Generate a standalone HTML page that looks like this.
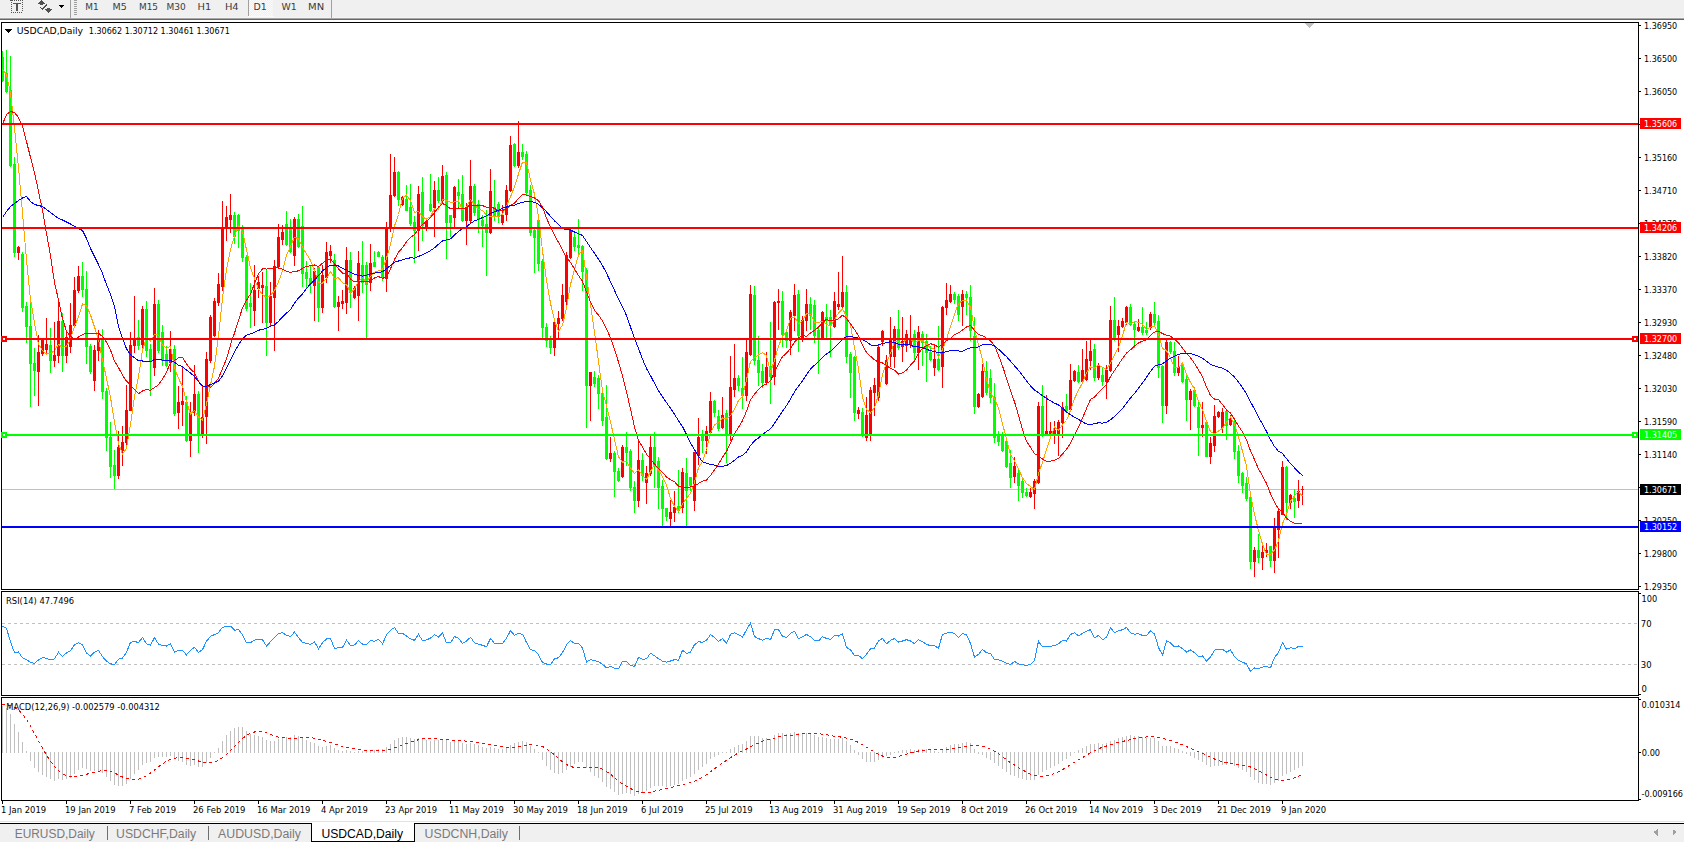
<!DOCTYPE html>
<html><head><meta charset="utf-8"><style>
html,body{margin:0;padding:0;background:#fff;}
body{width:1684px;height:842px;overflow:hidden;position:relative;}
svg{position:absolute;left:0;top:0;display:block;}
</style></head><body>
<svg width="1684" height="842" viewBox="0 0 1684 842">
<g shape-rendering="crispEdges">
<rect x="0" y="0" width="1684" height="18" fill="#f0f0f0"/>
<rect x="0" y="18" width="1684" height="1" fill="#a8a8a8"/>
<rect x="0" y="19" width="1684" height="1" fill="#666666"/>
<rect x="0" y="17" width="1684" height="1" fill="#f4f4f4"/>
<rect x="10" y="0" width="3" height="1" fill="#555"/>
<rect x="14" y="0" width="1" height="1" fill="#555"/>
<rect x="16" y="0" width="1" height="1" fill="#555"/>
<rect x="18" y="0" width="1" height="1" fill="#555"/>
<rect x="20" y="0" width="1" height="1" fill="#555"/>
<rect x="22" y="0" width="1" height="1" fill="#555"/>
<rect x="11" y="2" width="1" height="1" fill="#555"/>
<rect x="11" y="4" width="1" height="1" fill="#555"/>
<rect x="11" y="6" width="1" height="1" fill="#555"/>
<rect x="11" y="8" width="1" height="1" fill="#555"/>
<rect x="11" y="10" width="1" height="1" fill="#555"/>
<rect x="11" y="12" width="1" height="1" fill="#555"/>
<rect x="22" y="2" width="1" height="1" fill="#555"/>
<rect x="22" y="4" width="1" height="1" fill="#555"/>
<rect x="22" y="6" width="1" height="1" fill="#555"/>
<rect x="22" y="8" width="1" height="1" fill="#555"/>
<rect x="22" y="10" width="1" height="1" fill="#555"/>
<rect x="13" y="12" width="1" height="1" fill="#555"/>
<rect x="15" y="12" width="1" height="1" fill="#555"/>
<rect x="17" y="12" width="1" height="1" fill="#555"/>
<rect x="19" y="12" width="1" height="1" fill="#555"/>
<rect x="21" y="12" width="1" height="1" fill="#555"/>
<rect x="13" y="3" width="8" height="1" fill="#555"/>
<rect x="16" y="3" width="2" height="8" fill="#555"/>
<polygon points="41.5,0 45,3.6 43,3.6 43,4.8 40,4.8 40,3.6 38,3.6" fill="#505050"/>
<polyline points="40.3,7.3 42.4,9.4 46.9,4.4" fill="none" stroke="#505050" stroke-width="1.3"/>
<polygon points="47.2,8 50.2,8 50.2,9.2 52,9.2 48.6,12.8 45.2,9.2 47.2,9.2" fill="#505050"/>
<polygon points="59,5 64,5 61.5,8" fill="#000"/>
<rect x="70" y="0" width="1" height="18" fill="#a0a0a0"/>
<rect x="74" y="0" width="3" height="1" fill="#a0a0a0"/>
<rect x="74" y="2" width="3" height="1" fill="#a0a0a0"/>
<rect x="74" y="4" width="3" height="1" fill="#a0a0a0"/>
<rect x="74" y="6" width="3" height="1" fill="#a0a0a0"/>
<rect x="74" y="8" width="3" height="1" fill="#a0a0a0"/>
<rect x="74" y="10" width="3" height="1" fill="#a0a0a0"/>
<rect x="74" y="12" width="3" height="1" fill="#a0a0a0"/>
<rect x="74" y="14" width="3" height="1" fill="#a0a0a0"/>
<defs><pattern id="chk" width="2" height="2" patternUnits="userSpaceOnUse"><rect width="2" height="2" fill="#f0f0f0"/><rect width="1" height="1" fill="#fafafa"/><rect x="1" y="1" width="1" height="1" fill="#fafafa"/></pattern></defs>
<rect x="249" y="0" width="24" height="16" fill="url(#chk)"/>
<rect x="248" y="0" width="1" height="16" fill="#a0a0a0"/>
<rect x="248" y="16" width="26" height="1" fill="#fafafa"/>
<rect x="331" y="0" width="1" height="18" fill="#a0a0a0"/>
<rect x="1639" y="25" width="2" height="1" fill="#000"/>
<rect x="1639" y="58" width="2" height="1" fill="#000"/>
<rect x="1639" y="91" width="2" height="1" fill="#000"/>
<rect x="1639" y="124" width="2" height="1" fill="#000"/>
<rect x="1639" y="157" width="2" height="1" fill="#000"/>
<rect x="1639" y="190" width="2" height="1" fill="#000"/>
<rect x="1639" y="223" width="2" height="1" fill="#000"/>
<rect x="1639" y="256" width="2" height="1" fill="#000"/>
<rect x="1639" y="289" width="2" height="1" fill="#000"/>
<rect x="1639" y="322" width="2" height="1" fill="#000"/>
<rect x="1639" y="355" width="2" height="1" fill="#000"/>
<rect x="1639" y="388" width="2" height="1" fill="#000"/>
<rect x="1639" y="421" width="2" height="1" fill="#000"/>
<rect x="1639" y="454" width="2" height="1" fill="#000"/>
<rect x="1639" y="487" width="2" height="1" fill="#000"/>
<rect x="1639" y="520" width="2" height="1" fill="#000"/>
<rect x="1639" y="553" width="2" height="1" fill="#000"/>
<rect x="1639" y="586" width="2" height="1" fill="#000"/>
<polygon points="1305,23 1314,23 1309.5,28" fill="#c0c0c0"/>
<rect x="2" y="489" width="1636" height="1" fill="#c0c0c0"/>
<rect x="2" y="51" width="1" height="31" fill="#00ff00"/>
<rect x="1" y="57" width="3" height="24" fill="#00ff00"/>
<rect x="6" y="50" width="1" height="43" fill="#00ff00"/>
<rect x="5" y="73" width="3" height="19" fill="#00ff00"/>
<rect x="10" y="56" width="1" height="111" fill="#00ff00"/>
<rect x="9" y="90" width="3" height="76" fill="#00ff00"/>
<rect x="14" y="157" width="1" height="100" fill="#00ff00"/>
<rect x="13" y="164" width="3" height="89" fill="#00ff00"/>
<rect x="18" y="246" width="1" height="14" fill="#ff0000"/>
<rect x="17" y="247" width="3" height="6" fill="#ff0000"/>
<rect x="22" y="252" width="1" height="60" fill="#00ff00"/>
<rect x="21" y="254" width="3" height="54" fill="#00ff00"/>
<rect x="26" y="302" width="1" height="41" fill="#00ff00"/>
<rect x="25" y="306" width="3" height="21" fill="#00ff00"/>
<rect x="30" y="302" width="1" height="105" fill="#00ff00"/>
<rect x="29" y="326" width="3" height="38" fill="#00ff00"/>
<rect x="34" y="348" width="1" height="48" fill="#00ff00"/>
<rect x="33" y="363" width="3" height="8" fill="#00ff00"/>
<rect x="38" y="335" width="1" height="71" fill="#ff0000"/>
<rect x="37" y="352" width="3" height="20" fill="#ff0000"/>
<rect x="42" y="339" width="1" height="17" fill="#ff0000"/>
<rect x="41" y="339" width="3" height="15" fill="#ff0000"/>
<rect x="46" y="318" width="1" height="36" fill="#ff0000"/>
<rect x="45" y="344" width="3" height="6" fill="#ff0000"/>
<rect x="50" y="328" width="1" height="45" fill="#00ff00"/>
<rect x="49" y="345" width="3" height="16" fill="#00ff00"/>
<rect x="54" y="322" width="1" height="45" fill="#ff0000"/>
<rect x="53" y="355" width="3" height="6" fill="#ff0000"/>
<rect x="58" y="302" width="1" height="61" fill="#ff0000"/>
<rect x="57" y="321" width="3" height="35" fill="#ff0000"/>
<rect x="62" y="313" width="1" height="59" fill="#00ff00"/>
<rect x="61" y="321" width="3" height="35" fill="#00ff00"/>
<rect x="66" y="330" width="1" height="33" fill="#ff0000"/>
<rect x="65" y="337" width="3" height="19" fill="#ff0000"/>
<rect x="70" y="303" width="1" height="50" fill="#ff0000"/>
<rect x="69" y="325" width="3" height="22" fill="#ff0000"/>
<rect x="74" y="277" width="1" height="51" fill="#ff0000"/>
<rect x="73" y="290" width="3" height="36" fill="#ff0000"/>
<rect x="78" y="266" width="1" height="27" fill="#ff0000"/>
<rect x="77" y="276" width="3" height="15" fill="#ff0000"/>
<rect x="82" y="262" width="1" height="35" fill="#00ff00"/>
<rect x="81" y="276" width="3" height="14" fill="#00ff00"/>
<rect x="86" y="271" width="1" height="93" fill="#00ff00"/>
<rect x="85" y="289" width="3" height="58" fill="#00ff00"/>
<rect x="90" y="344" width="1" height="30" fill="#00ff00"/>
<rect x="89" y="346" width="3" height="26" fill="#00ff00"/>
<rect x="94" y="345" width="1" height="46" fill="#ff0000"/>
<rect x="93" y="350" width="3" height="31" fill="#ff0000"/>
<rect x="98" y="330" width="1" height="31" fill="#ff0000"/>
<rect x="97" y="340" width="3" height="11" fill="#ff0000"/>
<rect x="102" y="329" width="1" height="70" fill="#00ff00"/>
<rect x="101" y="340" width="3" height="52" fill="#00ff00"/>
<rect x="106" y="388" width="1" height="63" fill="#00ff00"/>
<rect x="105" y="391" width="3" height="47" fill="#00ff00"/>
<rect x="110" y="422" width="1" height="56" fill="#00ff00"/>
<rect x="109" y="437" width="3" height="30" fill="#00ff00"/>
<rect x="114" y="450" width="1" height="39" fill="#00ff00"/>
<rect x="113" y="465" width="3" height="11" fill="#00ff00"/>
<rect x="118" y="431" width="1" height="48" fill="#ff0000"/>
<rect x="117" y="447" width="3" height="29" fill="#ff0000"/>
<rect x="122" y="426" width="1" height="40" fill="#ff0000"/>
<rect x="121" y="442" width="3" height="9" fill="#ff0000"/>
<rect x="126" y="385" width="1" height="61" fill="#ff0000"/>
<rect x="125" y="410" width="3" height="33" fill="#ff0000"/>
<rect x="130" y="332" width="1" height="79" fill="#ff0000"/>
<rect x="129" y="345" width="3" height="66" fill="#ff0000"/>
<rect x="134" y="296" width="1" height="57" fill="#ff0000"/>
<rect x="133" y="339" width="3" height="7" fill="#ff0000"/>
<rect x="138" y="320" width="1" height="30" fill="#00ff00"/>
<rect x="137" y="337" width="3" height="9" fill="#00ff00"/>
<rect x="142" y="306" width="1" height="42" fill="#ff0000"/>
<rect x="141" y="309" width="3" height="36" fill="#ff0000"/>
<rect x="146" y="301" width="1" height="56" fill="#00ff00"/>
<rect x="145" y="309" width="3" height="42" fill="#00ff00"/>
<rect x="150" y="344" width="1" height="52" fill="#00ff00"/>
<rect x="149" y="349" width="3" height="12" fill="#00ff00"/>
<rect x="154" y="288" width="1" height="88" fill="#ff0000"/>
<rect x="153" y="304" width="3" height="64" fill="#ff0000"/>
<rect x="158" y="300" width="1" height="53" fill="#00ff00"/>
<rect x="157" y="304" width="3" height="47" fill="#00ff00"/>
<rect x="162" y="325" width="1" height="41" fill="#00ff00"/>
<rect x="161" y="332" width="3" height="29" fill="#00ff00"/>
<rect x="166" y="346" width="1" height="21" fill="#00ff00"/>
<rect x="165" y="354" width="3" height="12" fill="#00ff00"/>
<rect x="170" y="331" width="1" height="41" fill="#ff0000"/>
<rect x="169" y="349" width="3" height="14" fill="#ff0000"/>
<rect x="174" y="345" width="1" height="71" fill="#00ff00"/>
<rect x="173" y="349" width="3" height="65" fill="#00ff00"/>
<rect x="178" y="386" width="1" height="43" fill="#ff0000"/>
<rect x="177" y="402" width="3" height="11" fill="#ff0000"/>
<rect x="182" y="367" width="1" height="59" fill="#ff0000"/>
<rect x="181" y="401" width="3" height="4" fill="#ff0000"/>
<rect x="186" y="396" width="1" height="46" fill="#00ff00"/>
<rect x="185" y="402" width="3" height="39" fill="#00ff00"/>
<rect x="190" y="402" width="1" height="55" fill="#ff0000"/>
<rect x="189" y="412" width="3" height="29" fill="#ff0000"/>
<rect x="194" y="365" width="1" height="51" fill="#ff0000"/>
<rect x="193" y="394" width="3" height="19" fill="#ff0000"/>
<rect x="198" y="391" width="1" height="62" fill="#00ff00"/>
<rect x="197" y="394" width="3" height="42" fill="#00ff00"/>
<rect x="202" y="386" width="1" height="52" fill="#ff0000"/>
<rect x="201" y="417" width="3" height="19" fill="#ff0000"/>
<rect x="206" y="352" width="1" height="92" fill="#ff0000"/>
<rect x="205" y="359" width="3" height="58" fill="#ff0000"/>
<rect x="210" y="315" width="1" height="48" fill="#ff0000"/>
<rect x="209" y="317" width="3" height="44" fill="#ff0000"/>
<rect x="214" y="298" width="1" height="39" fill="#ff0000"/>
<rect x="213" y="301" width="3" height="35" fill="#ff0000"/>
<rect x="218" y="273" width="1" height="33" fill="#ff0000"/>
<rect x="217" y="284" width="3" height="19" fill="#ff0000"/>
<rect x="222" y="201" width="1" height="90" fill="#ff0000"/>
<rect x="221" y="227" width="3" height="60" fill="#ff0000"/>
<rect x="226" y="206" width="1" height="35" fill="#ff0000"/>
<rect x="225" y="217" width="3" height="11" fill="#ff0000"/>
<rect x="230" y="194" width="1" height="39" fill="#ff0000"/>
<rect x="229" y="215" width="3" height="5" fill="#ff0000"/>
<rect x="234" y="212" width="1" height="32" fill="#00ff00"/>
<rect x="233" y="215" width="3" height="22" fill="#00ff00"/>
<rect x="238" y="214" width="1" height="34" fill="#00ff00"/>
<rect x="237" y="215" width="3" height="16" fill="#00ff00"/>
<rect x="242" y="225" width="1" height="37" fill="#00ff00"/>
<rect x="241" y="227" width="3" height="31" fill="#00ff00"/>
<rect x="246" y="255" width="1" height="56" fill="#00ff00"/>
<rect x="245" y="257" width="3" height="52" fill="#00ff00"/>
<rect x="250" y="283" width="1" height="45" fill="#00ff00"/>
<rect x="249" y="303" width="3" height="4" fill="#00ff00"/>
<rect x="254" y="265" width="1" height="61" fill="#ff0000"/>
<rect x="253" y="290" width="3" height="21" fill="#ff0000"/>
<rect x="258" y="276" width="1" height="22" fill="#ff0000"/>
<rect x="257" y="282" width="3" height="7" fill="#ff0000"/>
<rect x="262" y="272" width="1" height="51" fill="#ff0000"/>
<rect x="261" y="285" width="3" height="3" fill="#ff0000"/>
<rect x="266" y="270" width="1" height="86" fill="#00ff00"/>
<rect x="265" y="286" width="3" height="37" fill="#00ff00"/>
<rect x="270" y="282" width="1" height="44" fill="#ff0000"/>
<rect x="269" y="296" width="3" height="27" fill="#ff0000"/>
<rect x="274" y="260" width="1" height="91" fill="#ff0000"/>
<rect x="273" y="266" width="3" height="32" fill="#ff0000"/>
<rect x="278" y="224" width="1" height="45" fill="#ff0000"/>
<rect x="277" y="237" width="3" height="30" fill="#ff0000"/>
<rect x="282" y="225" width="1" height="20" fill="#ff0000"/>
<rect x="281" y="232" width="3" height="8" fill="#ff0000"/>
<rect x="286" y="211" width="1" height="35" fill="#00ff00"/>
<rect x="285" y="224" width="3" height="21" fill="#00ff00"/>
<rect x="290" y="219" width="1" height="34" fill="#00ff00"/>
<rect x="289" y="227" width="3" height="25" fill="#00ff00"/>
<rect x="294" y="217" width="1" height="49" fill="#ff0000"/>
<rect x="293" y="219" width="3" height="37" fill="#ff0000"/>
<rect x="298" y="214" width="1" height="34" fill="#00ff00"/>
<rect x="297" y="219" width="3" height="28" fill="#00ff00"/>
<rect x="302" y="206" width="1" height="81" fill="#00ff00"/>
<rect x="301" y="226" width="3" height="48" fill="#00ff00"/>
<rect x="306" y="261" width="1" height="27" fill="#00ff00"/>
<rect x="305" y="272" width="3" height="7" fill="#00ff00"/>
<rect x="310" y="266" width="1" height="27" fill="#00ff00"/>
<rect x="309" y="278" width="3" height="6" fill="#00ff00"/>
<rect x="314" y="268" width="1" height="53" fill="#ff0000"/>
<rect x="313" y="271" width="3" height="15" fill="#ff0000"/>
<rect x="318" y="266" width="1" height="56" fill="#00ff00"/>
<rect x="317" y="267" width="3" height="41" fill="#00ff00"/>
<rect x="322" y="265" width="1" height="48" fill="#ff0000"/>
<rect x="321" y="275" width="3" height="33" fill="#ff0000"/>
<rect x="326" y="242" width="1" height="41" fill="#ff0000"/>
<rect x="325" y="252" width="3" height="26" fill="#ff0000"/>
<rect x="330" y="245" width="1" height="18" fill="#ff0000"/>
<rect x="329" y="251" width="3" height="5" fill="#ff0000"/>
<rect x="334" y="254" width="1" height="54" fill="#00ff00"/>
<rect x="333" y="260" width="3" height="47" fill="#00ff00"/>
<rect x="338" y="296" width="1" height="35" fill="#ff0000"/>
<rect x="337" y="302" width="3" height="5" fill="#ff0000"/>
<rect x="342" y="290" width="1" height="19" fill="#ff0000"/>
<rect x="341" y="301" width="3" height="3" fill="#ff0000"/>
<rect x="346" y="247" width="1" height="67" fill="#ff0000"/>
<rect x="345" y="260" width="3" height="43" fill="#ff0000"/>
<rect x="350" y="252" width="1" height="56" fill="#00ff00"/>
<rect x="349" y="260" width="3" height="33" fill="#00ff00"/>
<rect x="354" y="286" width="1" height="13" fill="#ff0000"/>
<rect x="353" y="288" width="3" height="10" fill="#ff0000"/>
<rect x="358" y="251" width="1" height="70" fill="#ff0000"/>
<rect x="357" y="263" width="3" height="33" fill="#ff0000"/>
<rect x="362" y="241" width="1" height="52" fill="#00ff00"/>
<rect x="361" y="265" width="3" height="18" fill="#00ff00"/>
<rect x="366" y="262" width="1" height="76" fill="#00ff00"/>
<rect x="365" y="265" width="3" height="20" fill="#00ff00"/>
<rect x="370" y="244" width="1" height="47" fill="#ff0000"/>
<rect x="369" y="263" width="3" height="20" fill="#ff0000"/>
<rect x="374" y="251" width="1" height="16" fill="#00ff00"/>
<rect x="373" y="262" width="3" height="5" fill="#00ff00"/>
<rect x="378" y="251" width="1" height="6" fill="#00ff00"/>
<rect x="377" y="252" width="3" height="5" fill="#00ff00"/>
<rect x="382" y="255" width="1" height="26" fill="#00ff00"/>
<rect x="381" y="257" width="3" height="21" fill="#00ff00"/>
<rect x="386" y="222" width="1" height="70" fill="#ff0000"/>
<rect x="385" y="227" width="3" height="52" fill="#ff0000"/>
<rect x="390" y="154" width="1" height="78" fill="#ff0000"/>
<rect x="389" y="195" width="3" height="34" fill="#ff0000"/>
<rect x="394" y="157" width="1" height="40" fill="#ff0000"/>
<rect x="393" y="172" width="3" height="24" fill="#ff0000"/>
<rect x="398" y="171" width="1" height="35" fill="#00ff00"/>
<rect x="397" y="172" width="3" height="28" fill="#00ff00"/>
<rect x="402" y="196" width="1" height="10" fill="#ff0000"/>
<rect x="401" y="197" width="3" height="8" fill="#ff0000"/>
<rect x="406" y="185" width="1" height="26" fill="#00ff00"/>
<rect x="405" y="199" width="3" height="12" fill="#00ff00"/>
<rect x="410" y="184" width="1" height="42" fill="#00ff00"/>
<rect x="409" y="207" width="3" height="17" fill="#00ff00"/>
<rect x="414" y="216" width="1" height="47" fill="#00ff00"/>
<rect x="413" y="222" width="3" height="9" fill="#00ff00"/>
<rect x="418" y="186" width="1" height="65" fill="#ff0000"/>
<rect x="417" y="194" width="3" height="37" fill="#ff0000"/>
<rect x="422" y="177" width="1" height="64" fill="#00ff00"/>
<rect x="421" y="192" width="3" height="34" fill="#00ff00"/>
<rect x="426" y="220" width="1" height="11" fill="#ff0000"/>
<rect x="425" y="221" width="3" height="6" fill="#ff0000"/>
<rect x="430" y="174" width="1" height="38" fill="#00ff00"/>
<rect x="429" y="204" width="3" height="7" fill="#00ff00"/>
<rect x="434" y="181" width="1" height="56" fill="#ff0000"/>
<rect x="433" y="190" width="3" height="18" fill="#ff0000"/>
<rect x="438" y="177" width="1" height="26" fill="#00ff00"/>
<rect x="437" y="190" width="3" height="11" fill="#00ff00"/>
<rect x="442" y="165" width="1" height="38" fill="#ff0000"/>
<rect x="441" y="176" width="3" height="25" fill="#ff0000"/>
<rect x="446" y="172" width="1" height="87" fill="#00ff00"/>
<rect x="445" y="175" width="3" height="48" fill="#00ff00"/>
<rect x="450" y="215" width="1" height="22" fill="#00ff00"/>
<rect x="449" y="215" width="3" height="8" fill="#00ff00"/>
<rect x="454" y="186" width="1" height="43" fill="#ff0000"/>
<rect x="453" y="187" width="3" height="31" fill="#ff0000"/>
<rect x="458" y="179" width="1" height="28" fill="#00ff00"/>
<rect x="457" y="192" width="3" height="4" fill="#00ff00"/>
<rect x="462" y="175" width="1" height="47" fill="#00ff00"/>
<rect x="461" y="194" width="3" height="27" fill="#00ff00"/>
<rect x="466" y="203" width="1" height="42" fill="#ff0000"/>
<rect x="465" y="207" width="3" height="14" fill="#ff0000"/>
<rect x="470" y="160" width="1" height="63" fill="#ff0000"/>
<rect x="469" y="186" width="3" height="35" fill="#ff0000"/>
<rect x="474" y="184" width="1" height="32" fill="#00ff00"/>
<rect x="473" y="186" width="3" height="27" fill="#00ff00"/>
<rect x="478" y="200" width="1" height="33" fill="#00ff00"/>
<rect x="477" y="204" width="3" height="16" fill="#00ff00"/>
<rect x="482" y="215" width="1" height="32" fill="#00ff00"/>
<rect x="481" y="220" width="3" height="6" fill="#00ff00"/>
<rect x="486" y="210" width="1" height="66" fill="#00ff00"/>
<rect x="485" y="224" width="3" height="9" fill="#00ff00"/>
<rect x="490" y="169" width="1" height="65" fill="#ff0000"/>
<rect x="489" y="191" width="3" height="42" fill="#ff0000"/>
<rect x="494" y="180" width="1" height="41" fill="#00ff00"/>
<rect x="493" y="207" width="3" height="9" fill="#00ff00"/>
<rect x="498" y="202" width="1" height="21" fill="#00ff00"/>
<rect x="497" y="204" width="3" height="13" fill="#00ff00"/>
<rect x="502" y="205" width="1" height="20" fill="#ff0000"/>
<rect x="501" y="215" width="3" height="8" fill="#ff0000"/>
<rect x="506" y="185" width="1" height="36" fill="#ff0000"/>
<rect x="505" y="190" width="3" height="25" fill="#ff0000"/>
<rect x="510" y="136" width="1" height="56" fill="#ff0000"/>
<rect x="509" y="145" width="3" height="46" fill="#ff0000"/>
<rect x="514" y="143" width="1" height="24" fill="#00ff00"/>
<rect x="513" y="144" width="3" height="22" fill="#00ff00"/>
<rect x="518" y="121" width="1" height="47" fill="#ff0000"/>
<rect x="517" y="152" width="3" height="14" fill="#ff0000"/>
<rect x="522" y="144" width="1" height="16" fill="#00ff00"/>
<rect x="521" y="152" width="3" height="5" fill="#00ff00"/>
<rect x="526" y="151" width="1" height="45" fill="#00ff00"/>
<rect x="525" y="154" width="3" height="39" fill="#00ff00"/>
<rect x="530" y="185" width="1" height="51" fill="#00ff00"/>
<rect x="529" y="190" width="3" height="43" fill="#00ff00"/>
<rect x="534" y="228" width="1" height="45" fill="#00ff00"/>
<rect x="533" y="230" width="3" height="8" fill="#00ff00"/>
<rect x="538" y="220" width="1" height="51" fill="#00ff00"/>
<rect x="537" y="220" width="3" height="44" fill="#00ff00"/>
<rect x="542" y="259" width="1" height="79" fill="#00ff00"/>
<rect x="541" y="261" width="3" height="67" fill="#00ff00"/>
<rect x="546" y="323" width="1" height="24" fill="#00ff00"/>
<rect x="545" y="327" width="3" height="14" fill="#00ff00"/>
<rect x="550" y="336" width="1" height="18" fill="#00ff00"/>
<rect x="549" y="340" width="3" height="8" fill="#00ff00"/>
<rect x="554" y="320" width="1" height="36" fill="#ff0000"/>
<rect x="553" y="322" width="3" height="26" fill="#ff0000"/>
<rect x="558" y="311" width="1" height="28" fill="#ff0000"/>
<rect x="557" y="318" width="3" height="6" fill="#ff0000"/>
<rect x="562" y="284" width="1" height="37" fill="#ff0000"/>
<rect x="561" y="295" width="3" height="24" fill="#ff0000"/>
<rect x="566" y="252" width="1" height="54" fill="#ff0000"/>
<rect x="565" y="255" width="3" height="47" fill="#ff0000"/>
<rect x="570" y="228" width="1" height="31" fill="#ff0000"/>
<rect x="569" y="230" width="3" height="28" fill="#ff0000"/>
<rect x="574" y="232" width="1" height="19" fill="#00ff00"/>
<rect x="573" y="237" width="3" height="10" fill="#00ff00"/>
<rect x="578" y="219" width="1" height="36" fill="#00ff00"/>
<rect x="577" y="245" width="3" height="3" fill="#00ff00"/>
<rect x="582" y="245" width="1" height="46" fill="#00ff00"/>
<rect x="581" y="246" width="3" height="26" fill="#00ff00"/>
<rect x="586" y="268" width="1" height="160" fill="#00ff00"/>
<rect x="585" y="270" width="3" height="116" fill="#00ff00"/>
<rect x="590" y="372" width="1" height="49" fill="#ff0000"/>
<rect x="589" y="372" width="3" height="14" fill="#ff0000"/>
<rect x="594" y="371" width="1" height="16" fill="#00ff00"/>
<rect x="593" y="377" width="3" height="7" fill="#00ff00"/>
<rect x="598" y="375" width="1" height="34" fill="#00ff00"/>
<rect x="597" y="378" width="3" height="16" fill="#00ff00"/>
<rect x="602" y="387" width="1" height="39" fill="#00ff00"/>
<rect x="601" y="393" width="3" height="28" fill="#00ff00"/>
<rect x="606" y="385" width="1" height="75" fill="#00ff00"/>
<rect x="605" y="417" width="3" height="42" fill="#00ff00"/>
<rect x="610" y="437" width="1" height="25" fill="#ff0000"/>
<rect x="609" y="453" width="3" height="6" fill="#ff0000"/>
<rect x="614" y="451" width="1" height="46" fill="#00ff00"/>
<rect x="613" y="453" width="3" height="19" fill="#00ff00"/>
<rect x="618" y="468" width="1" height="14" fill="#00ff00"/>
<rect x="617" y="471" width="3" height="10" fill="#00ff00"/>
<rect x="622" y="445" width="1" height="33" fill="#ff0000"/>
<rect x="621" y="447" width="3" height="30" fill="#ff0000"/>
<rect x="626" y="432" width="1" height="34" fill="#00ff00"/>
<rect x="625" y="447" width="3" height="6" fill="#00ff00"/>
<rect x="630" y="449" width="1" height="42" fill="#00ff00"/>
<rect x="629" y="451" width="3" height="37" fill="#00ff00"/>
<rect x="634" y="481" width="1" height="32" fill="#00ff00"/>
<rect x="633" y="487" width="3" height="14" fill="#00ff00"/>
<rect x="638" y="442" width="1" height="65" fill="#ff0000"/>
<rect x="637" y="460" width="3" height="41" fill="#ff0000"/>
<rect x="642" y="453" width="1" height="28" fill="#00ff00"/>
<rect x="641" y="460" width="3" height="16" fill="#00ff00"/>
<rect x="646" y="466" width="1" height="38" fill="#ff0000"/>
<rect x="645" y="473" width="3" height="10" fill="#ff0000"/>
<rect x="650" y="435" width="1" height="41" fill="#ff0000"/>
<rect x="649" y="447" width="3" height="27" fill="#ff0000"/>
<rect x="654" y="432" width="1" height="56" fill="#00ff00"/>
<rect x="653" y="447" width="3" height="20" fill="#00ff00"/>
<rect x="658" y="457" width="1" height="52" fill="#00ff00"/>
<rect x="657" y="461" width="3" height="27" fill="#00ff00"/>
<rect x="662" y="480" width="1" height="47" fill="#00ff00"/>
<rect x="661" y="486" width="3" height="23" fill="#00ff00"/>
<rect x="666" y="508" width="1" height="13" fill="#00ff00"/>
<rect x="665" y="508" width="3" height="9" fill="#00ff00"/>
<rect x="670" y="500" width="1" height="26" fill="#ff0000"/>
<rect x="669" y="512" width="3" height="7" fill="#ff0000"/>
<rect x="674" y="491" width="1" height="31" fill="#ff0000"/>
<rect x="673" y="507" width="3" height="6" fill="#ff0000"/>
<rect x="678" y="470" width="1" height="43" fill="#00ff00"/>
<rect x="677" y="506" width="3" height="5" fill="#00ff00"/>
<rect x="682" y="468" width="1" height="45" fill="#ff0000"/>
<rect x="681" y="472" width="3" height="36" fill="#ff0000"/>
<rect x="686" y="458" width="1" height="69" fill="#00ff00"/>
<rect x="685" y="473" width="3" height="18" fill="#00ff00"/>
<rect x="690" y="477" width="1" height="14" fill="#00ff00"/>
<rect x="689" y="477" width="3" height="9" fill="#00ff00"/>
<rect x="694" y="452" width="1" height="59" fill="#ff0000"/>
<rect x="693" y="452" width="3" height="49" fill="#ff0000"/>
<rect x="698" y="418" width="1" height="47" fill="#ff0000"/>
<rect x="697" y="437" width="3" height="19" fill="#ff0000"/>
<rect x="702" y="430" width="1" height="23" fill="#00ff00"/>
<rect x="701" y="435" width="3" height="6" fill="#00ff00"/>
<rect x="706" y="426" width="1" height="28" fill="#ff0000"/>
<rect x="705" y="431" width="3" height="10" fill="#ff0000"/>
<rect x="710" y="392" width="1" height="42" fill="#ff0000"/>
<rect x="709" y="401" width="3" height="32" fill="#ff0000"/>
<rect x="714" y="400" width="1" height="17" fill="#00ff00"/>
<rect x="713" y="401" width="3" height="12" fill="#00ff00"/>
<rect x="718" y="410" width="1" height="21" fill="#00ff00"/>
<rect x="717" y="416" width="3" height="13" fill="#00ff00"/>
<rect x="722" y="397" width="1" height="32" fill="#ff0000"/>
<rect x="721" y="415" width="3" height="13" fill="#ff0000"/>
<rect x="726" y="410" width="1" height="53" fill="#00ff00"/>
<rect x="725" y="413" width="3" height="23" fill="#00ff00"/>
<rect x="730" y="356" width="1" height="85" fill="#ff0000"/>
<rect x="729" y="387" width="3" height="49" fill="#ff0000"/>
<rect x="734" y="344" width="1" height="53" fill="#ff0000"/>
<rect x="733" y="378" width="3" height="12" fill="#ff0000"/>
<rect x="738" y="375" width="1" height="16" fill="#00ff00"/>
<rect x="737" y="378" width="3" height="8" fill="#00ff00"/>
<rect x="742" y="357" width="1" height="52" fill="#00ff00"/>
<rect x="741" y="388" width="3" height="8" fill="#00ff00"/>
<rect x="746" y="340" width="1" height="61" fill="#ff0000"/>
<rect x="745" y="352" width="3" height="44" fill="#ff0000"/>
<rect x="750" y="285" width="1" height="71" fill="#ff0000"/>
<rect x="749" y="294" width="3" height="61" fill="#ff0000"/>
<rect x="754" y="286" width="1" height="79" fill="#00ff00"/>
<rect x="753" y="295" width="3" height="66" fill="#00ff00"/>
<rect x="758" y="336" width="1" height="50" fill="#00ff00"/>
<rect x="757" y="360" width="3" height="13" fill="#00ff00"/>
<rect x="762" y="364" width="1" height="24" fill="#00ff00"/>
<rect x="761" y="371" width="3" height="12" fill="#00ff00"/>
<rect x="766" y="352" width="1" height="33" fill="#ff0000"/>
<rect x="765" y="367" width="3" height="16" fill="#ff0000"/>
<rect x="770" y="322" width="1" height="82" fill="#00ff00"/>
<rect x="769" y="366" width="3" height="11" fill="#00ff00"/>
<rect x="774" y="301" width="1" height="84" fill="#ff0000"/>
<rect x="773" y="302" width="3" height="75" fill="#ff0000"/>
<rect x="778" y="289" width="1" height="41" fill="#ff0000"/>
<rect x="777" y="301" width="3" height="2" fill="#ff0000"/>
<rect x="782" y="291" width="1" height="56" fill="#00ff00"/>
<rect x="781" y="301" width="3" height="34" fill="#00ff00"/>
<rect x="786" y="330" width="1" height="18" fill="#00ff00"/>
<rect x="785" y="332" width="3" height="9" fill="#00ff00"/>
<rect x="790" y="310" width="1" height="45" fill="#ff0000"/>
<rect x="789" y="312" width="3" height="29" fill="#ff0000"/>
<rect x="794" y="284" width="1" height="47" fill="#ff0000"/>
<rect x="793" y="295" width="3" height="21" fill="#ff0000"/>
<rect x="798" y="290" width="1" height="62" fill="#00ff00"/>
<rect x="797" y="294" width="3" height="42" fill="#00ff00"/>
<rect x="802" y="316" width="1" height="26" fill="#ff0000"/>
<rect x="801" y="320" width="3" height="18" fill="#ff0000"/>
<rect x="806" y="289" width="1" height="42" fill="#ff0000"/>
<rect x="805" y="304" width="3" height="17" fill="#ff0000"/>
<rect x="810" y="297" width="1" height="33" fill="#00ff00"/>
<rect x="809" y="304" width="3" height="12" fill="#00ff00"/>
<rect x="814" y="300" width="1" height="43" fill="#00ff00"/>
<rect x="813" y="305" width="3" height="31" fill="#00ff00"/>
<rect x="818" y="326" width="1" height="48" fill="#00ff00"/>
<rect x="817" y="330" width="3" height="8" fill="#00ff00"/>
<rect x="822" y="311" width="1" height="29" fill="#ff0000"/>
<rect x="821" y="312" width="3" height="26" fill="#ff0000"/>
<rect x="826" y="304" width="1" height="34" fill="#00ff00"/>
<rect x="825" y="317" width="3" height="4" fill="#00ff00"/>
<rect x="830" y="310" width="1" height="47" fill="#00ff00"/>
<rect x="829" y="317" width="3" height="9" fill="#00ff00"/>
<rect x="834" y="292" width="1" height="36" fill="#ff0000"/>
<rect x="833" y="301" width="3" height="26" fill="#ff0000"/>
<rect x="838" y="272" width="1" height="38" fill="#ff0000"/>
<rect x="837" y="304" width="3" height="3" fill="#ff0000"/>
<rect x="842" y="256" width="1" height="54" fill="#ff0000"/>
<rect x="841" y="292" width="3" height="15" fill="#ff0000"/>
<rect x="846" y="285" width="1" height="78" fill="#00ff00"/>
<rect x="845" y="292" width="3" height="65" fill="#00ff00"/>
<rect x="850" y="352" width="1" height="46" fill="#00ff00"/>
<rect x="849" y="354" width="3" height="19" fill="#00ff00"/>
<rect x="854" y="356" width="1" height="65" fill="#00ff00"/>
<rect x="853" y="357" width="3" height="56" fill="#00ff00"/>
<rect x="858" y="407" width="1" height="12" fill="#ff0000"/>
<rect x="857" y="410" width="3" height="4" fill="#ff0000"/>
<rect x="862" y="408" width="1" height="29" fill="#00ff00"/>
<rect x="861" y="412" width="3" height="24" fill="#00ff00"/>
<rect x="866" y="397" width="1" height="44" fill="#ff0000"/>
<rect x="865" y="415" width="3" height="23" fill="#ff0000"/>
<rect x="870" y="387" width="1" height="54" fill="#ff0000"/>
<rect x="869" y="390" width="3" height="46" fill="#ff0000"/>
<rect x="874" y="378" width="1" height="38" fill="#ff0000"/>
<rect x="873" y="385" width="3" height="8" fill="#ff0000"/>
<rect x="878" y="344" width="1" height="57" fill="#ff0000"/>
<rect x="877" y="347" width="3" height="51" fill="#ff0000"/>
<rect x="882" y="330" width="1" height="16" fill="#ff0000"/>
<rect x="881" y="331" width="3" height="11" fill="#ff0000"/>
<rect x="886" y="355" width="1" height="30" fill="#ff0000"/>
<rect x="885" y="360" width="3" height="24" fill="#ff0000"/>
<rect x="890" y="317" width="1" height="50" fill="#ff0000"/>
<rect x="889" y="340" width="3" height="17" fill="#ff0000"/>
<rect x="894" y="326" width="1" height="42" fill="#ff0000"/>
<rect x="893" y="329" width="3" height="28" fill="#ff0000"/>
<rect x="898" y="310" width="1" height="40" fill="#00ff00"/>
<rect x="897" y="329" width="3" height="19" fill="#00ff00"/>
<rect x="902" y="317" width="1" height="45" fill="#ff0000"/>
<rect x="901" y="341" width="3" height="6" fill="#ff0000"/>
<rect x="906" y="330" width="1" height="22" fill="#ff0000"/>
<rect x="905" y="334" width="3" height="12" fill="#ff0000"/>
<rect x="910" y="315" width="1" height="33" fill="#ff0000"/>
<rect x="909" y="340" width="3" height="5" fill="#ff0000"/>
<rect x="914" y="330" width="1" height="30" fill="#00ff00"/>
<rect x="913" y="334" width="3" height="19" fill="#00ff00"/>
<rect x="918" y="326" width="1" height="44" fill="#ff0000"/>
<rect x="917" y="332" width="3" height="21" fill="#ff0000"/>
<rect x="922" y="331" width="1" height="35" fill="#00ff00"/>
<rect x="921" y="334" width="3" height="9" fill="#00ff00"/>
<rect x="926" y="334" width="1" height="48" fill="#00ff00"/>
<rect x="925" y="341" width="3" height="12" fill="#00ff00"/>
<rect x="930" y="346" width="1" height="15" fill="#00ff00"/>
<rect x="929" y="352" width="3" height="8" fill="#00ff00"/>
<rect x="934" y="345" width="1" height="31" fill="#ff0000"/>
<rect x="933" y="359" width="3" height="9" fill="#ff0000"/>
<rect x="938" y="326" width="1" height="45" fill="#00ff00"/>
<rect x="937" y="359" width="3" height="11" fill="#00ff00"/>
<rect x="942" y="306" width="1" height="82" fill="#ff0000"/>
<rect x="941" y="307" width="3" height="60" fill="#ff0000"/>
<rect x="946" y="283" width="1" height="32" fill="#ff0000"/>
<rect x="945" y="300" width="3" height="8" fill="#ff0000"/>
<rect x="950" y="285" width="1" height="18" fill="#ff0000"/>
<rect x="949" y="294" width="3" height="8" fill="#ff0000"/>
<rect x="954" y="292" width="1" height="12" fill="#00ff00"/>
<rect x="953" y="294" width="3" height="6" fill="#00ff00"/>
<rect x="958" y="294" width="1" height="27" fill="#00ff00"/>
<rect x="957" y="296" width="3" height="19" fill="#00ff00"/>
<rect x="962" y="290" width="1" height="36" fill="#ff0000"/>
<rect x="961" y="294" width="3" height="13" fill="#ff0000"/>
<rect x="966" y="291" width="1" height="24" fill="#00ff00"/>
<rect x="965" y="294" width="3" height="4" fill="#00ff00"/>
<rect x="970" y="285" width="1" height="56" fill="#00ff00"/>
<rect x="969" y="297" width="3" height="34" fill="#00ff00"/>
<rect x="974" y="317" width="1" height="97" fill="#00ff00"/>
<rect x="973" y="336" width="3" height="71" fill="#00ff00"/>
<rect x="978" y="393" width="1" height="15" fill="#ff0000"/>
<rect x="977" y="394" width="3" height="13" fill="#ff0000"/>
<rect x="982" y="364" width="1" height="34" fill="#ff0000"/>
<rect x="981" y="371" width="3" height="26" fill="#ff0000"/>
<rect x="986" y="361" width="1" height="34" fill="#00ff00"/>
<rect x="985" y="371" width="3" height="22" fill="#00ff00"/>
<rect x="990" y="369" width="1" height="34" fill="#00ff00"/>
<rect x="989" y="378" width="3" height="20" fill="#00ff00"/>
<rect x="994" y="383" width="1" height="60" fill="#00ff00"/>
<rect x="993" y="397" width="3" height="41" fill="#00ff00"/>
<rect x="998" y="431" width="1" height="15" fill="#00ff00"/>
<rect x="997" y="436" width="3" height="6" fill="#00ff00"/>
<rect x="1002" y="432" width="1" height="20" fill="#00ff00"/>
<rect x="1001" y="436" width="3" height="15" fill="#00ff00"/>
<rect x="1006" y="438" width="1" height="30" fill="#00ff00"/>
<rect x="1005" y="441" width="3" height="26" fill="#00ff00"/>
<rect x="1010" y="450" width="1" height="38" fill="#00ff00"/>
<rect x="1009" y="463" width="3" height="15" fill="#00ff00"/>
<rect x="1014" y="457" width="1" height="26" fill="#ff0000"/>
<rect x="1013" y="466" width="3" height="11" fill="#ff0000"/>
<rect x="1018" y="470" width="1" height="31" fill="#00ff00"/>
<rect x="1017" y="473" width="3" height="13" fill="#00ff00"/>
<rect x="1022" y="477" width="1" height="21" fill="#00ff00"/>
<rect x="1021" y="481" width="3" height="12" fill="#00ff00"/>
<rect x="1026" y="488" width="1" height="9" fill="#00ff00"/>
<rect x="1025" y="492" width="3" height="4" fill="#00ff00"/>
<rect x="1030" y="488" width="1" height="10" fill="#ff0000"/>
<rect x="1029" y="492" width="3" height="5" fill="#ff0000"/>
<rect x="1034" y="479" width="1" height="30" fill="#ff0000"/>
<rect x="1033" y="481" width="3" height="13" fill="#ff0000"/>
<rect x="1038" y="402" width="1" height="82" fill="#ff0000"/>
<rect x="1037" y="406" width="3" height="77" fill="#ff0000"/>
<rect x="1042" y="385" width="1" height="52" fill="#00ff00"/>
<rect x="1041" y="406" width="3" height="30" fill="#00ff00"/>
<rect x="1046" y="395" width="1" height="41" fill="#ff0000"/>
<rect x="1045" y="431" width="3" height="3" fill="#ff0000"/>
<rect x="1050" y="422" width="1" height="15" fill="#ff0000"/>
<rect x="1049" y="431" width="3" height="5" fill="#ff0000"/>
<rect x="1054" y="421" width="1" height="23" fill="#ff0000"/>
<rect x="1053" y="430" width="3" height="6" fill="#ff0000"/>
<rect x="1058" y="420" width="1" height="36" fill="#ff0000"/>
<rect x="1057" y="422" width="3" height="14" fill="#ff0000"/>
<rect x="1062" y="402" width="1" height="36" fill="#ff0000"/>
<rect x="1061" y="407" width="3" height="16" fill="#ff0000"/>
<rect x="1066" y="394" width="1" height="18" fill="#00ff00"/>
<rect x="1065" y="406" width="3" height="5" fill="#00ff00"/>
<rect x="1070" y="364" width="1" height="47" fill="#ff0000"/>
<rect x="1069" y="380" width="3" height="30" fill="#ff0000"/>
<rect x="1074" y="370" width="1" height="12" fill="#ff0000"/>
<rect x="1073" y="371" width="3" height="10" fill="#ff0000"/>
<rect x="1078" y="365" width="1" height="18" fill="#00ff00"/>
<rect x="1077" y="372" width="3" height="10" fill="#00ff00"/>
<rect x="1082" y="349" width="1" height="33" fill="#ff0000"/>
<rect x="1081" y="370" width="3" height="12" fill="#ff0000"/>
<rect x="1086" y="341" width="1" height="40" fill="#ff0000"/>
<rect x="1085" y="359" width="3" height="21" fill="#ff0000"/>
<rect x="1090" y="340" width="1" height="30" fill="#ff0000"/>
<rect x="1089" y="351" width="3" height="10" fill="#ff0000"/>
<rect x="1094" y="344" width="1" height="37" fill="#00ff00"/>
<rect x="1093" y="349" width="3" height="29" fill="#00ff00"/>
<rect x="1098" y="363" width="1" height="17" fill="#ff0000"/>
<rect x="1097" y="366" width="3" height="12" fill="#ff0000"/>
<rect x="1102" y="367" width="1" height="19" fill="#00ff00"/>
<rect x="1101" y="375" width="3" height="7" fill="#00ff00"/>
<rect x="1106" y="365" width="1" height="34" fill="#ff0000"/>
<rect x="1105" y="370" width="3" height="12" fill="#ff0000"/>
<rect x="1110" y="306" width="1" height="66" fill="#ff0000"/>
<rect x="1109" y="320" width="3" height="51" fill="#ff0000"/>
<rect x="1114" y="297" width="1" height="44" fill="#00ff00"/>
<rect x="1113" y="320" width="3" height="18" fill="#00ff00"/>
<rect x="1118" y="320" width="1" height="32" fill="#ff0000"/>
<rect x="1117" y="326" width="3" height="9" fill="#ff0000"/>
<rect x="1122" y="318" width="1" height="10" fill="#ff0000"/>
<rect x="1121" y="321" width="3" height="6" fill="#ff0000"/>
<rect x="1126" y="306" width="1" height="19" fill="#ff0000"/>
<rect x="1125" y="307" width="3" height="16" fill="#ff0000"/>
<rect x="1130" y="304" width="1" height="22" fill="#00ff00"/>
<rect x="1129" y="307" width="3" height="18" fill="#00ff00"/>
<rect x="1134" y="322" width="1" height="26" fill="#00ff00"/>
<rect x="1133" y="324" width="3" height="6" fill="#00ff00"/>
<rect x="1138" y="319" width="1" height="13" fill="#ff0000"/>
<rect x="1137" y="327" width="3" height="4" fill="#ff0000"/>
<rect x="1142" y="307" width="1" height="28" fill="#00ff00"/>
<rect x="1141" y="327" width="3" height="6" fill="#00ff00"/>
<rect x="1146" y="322" width="1" height="13" fill="#00ff00"/>
<rect x="1145" y="330" width="3" height="3" fill="#00ff00"/>
<rect x="1150" y="312" width="1" height="18" fill="#ff0000"/>
<rect x="1149" y="314" width="3" height="14" fill="#ff0000"/>
<rect x="1154" y="302" width="1" height="23" fill="#00ff00"/>
<rect x="1153" y="314" width="3" height="9" fill="#00ff00"/>
<rect x="1158" y="315" width="1" height="63" fill="#00ff00"/>
<rect x="1157" y="321" width="3" height="47" fill="#00ff00"/>
<rect x="1162" y="365" width="1" height="58" fill="#00ff00"/>
<rect x="1161" y="366" width="3" height="40" fill="#00ff00"/>
<rect x="1166" y="340" width="1" height="74" fill="#ff0000"/>
<rect x="1165" y="342" width="3" height="64" fill="#ff0000"/>
<rect x="1170" y="341" width="1" height="13" fill="#00ff00"/>
<rect x="1169" y="342" width="3" height="10" fill="#00ff00"/>
<rect x="1174" y="342" width="1" height="34" fill="#00ff00"/>
<rect x="1173" y="351" width="3" height="22" fill="#00ff00"/>
<rect x="1178" y="356" width="1" height="20" fill="#ff0000"/>
<rect x="1177" y="367" width="3" height="6" fill="#ff0000"/>
<rect x="1182" y="362" width="1" height="21" fill="#00ff00"/>
<rect x="1181" y="365" width="3" height="17" fill="#00ff00"/>
<rect x="1186" y="376" width="1" height="45" fill="#00ff00"/>
<rect x="1185" y="379" width="3" height="21" fill="#00ff00"/>
<rect x="1190" y="389" width="1" height="41" fill="#ff0000"/>
<rect x="1189" y="391" width="3" height="9" fill="#ff0000"/>
<rect x="1194" y="387" width="1" height="20" fill="#00ff00"/>
<rect x="1193" y="390" width="3" height="16" fill="#00ff00"/>
<rect x="1198" y="400" width="1" height="56" fill="#00ff00"/>
<rect x="1197" y="407" width="3" height="21" fill="#00ff00"/>
<rect x="1202" y="402" width="1" height="35" fill="#ff0000"/>
<rect x="1201" y="425" width="3" height="3" fill="#ff0000"/>
<rect x="1206" y="420" width="1" height="37" fill="#00ff00"/>
<rect x="1205" y="422" width="3" height="35" fill="#00ff00"/>
<rect x="1210" y="437" width="1" height="27" fill="#ff0000"/>
<rect x="1209" y="443" width="3" height="14" fill="#ff0000"/>
<rect x="1214" y="405" width="1" height="47" fill="#ff0000"/>
<rect x="1213" y="416" width="3" height="30" fill="#ff0000"/>
<rect x="1218" y="411" width="1" height="7" fill="#ff0000"/>
<rect x="1217" y="412" width="3" height="5" fill="#ff0000"/>
<rect x="1222" y="408" width="1" height="25" fill="#ff0000"/>
<rect x="1221" y="412" width="3" height="16" fill="#ff0000"/>
<rect x="1226" y="410" width="1" height="30" fill="#00ff00"/>
<rect x="1225" y="411" width="3" height="15" fill="#00ff00"/>
<rect x="1230" y="415" width="1" height="11" fill="#ff0000"/>
<rect x="1229" y="418" width="3" height="7" fill="#ff0000"/>
<rect x="1234" y="420" width="1" height="39" fill="#00ff00"/>
<rect x="1233" y="422" width="3" height="30" fill="#00ff00"/>
<rect x="1238" y="445" width="1" height="38" fill="#00ff00"/>
<rect x="1237" y="451" width="3" height="25" fill="#00ff00"/>
<rect x="1242" y="472" width="1" height="21" fill="#00ff00"/>
<rect x="1241" y="473" width="3" height="13" fill="#00ff00"/>
<rect x="1246" y="477" width="1" height="24" fill="#00ff00"/>
<rect x="1245" y="483" width="3" height="16" fill="#00ff00"/>
<rect x="1250" y="497" width="1" height="72" fill="#00ff00"/>
<rect x="1249" y="497" width="3" height="65" fill="#00ff00"/>
<rect x="1254" y="547" width="1" height="30" fill="#ff0000"/>
<rect x="1253" y="550" width="3" height="12" fill="#ff0000"/>
<rect x="1258" y="534" width="1" height="29" fill="#00ff00"/>
<rect x="1257" y="550" width="3" height="8" fill="#00ff00"/>
<rect x="1262" y="545" width="1" height="25" fill="#ff0000"/>
<rect x="1261" y="552" width="3" height="6" fill="#ff0000"/>
<rect x="1266" y="543" width="1" height="14" fill="#ff0000"/>
<rect x="1265" y="550" width="3" height="3" fill="#ff0000"/>
<rect x="1270" y="546" width="1" height="21" fill="#00ff00"/>
<rect x="1269" y="546" width="3" height="15" fill="#00ff00"/>
<rect x="1274" y="518" width="1" height="55" fill="#ff0000"/>
<rect x="1273" y="528" width="3" height="33" fill="#ff0000"/>
<rect x="1278" y="509" width="1" height="49" fill="#ff0000"/>
<rect x="1277" y="511" width="3" height="19" fill="#ff0000"/>
<rect x="1282" y="461" width="1" height="54" fill="#ff0000"/>
<rect x="1281" y="467" width="3" height="48" fill="#ff0000"/>
<rect x="1286" y="466" width="1" height="54" fill="#00ff00"/>
<rect x="1285" y="467" width="3" height="36" fill="#00ff00"/>
<rect x="1290" y="494" width="1" height="15" fill="#ff0000"/>
<rect x="1289" y="495" width="3" height="8" fill="#ff0000"/>
<rect x="1294" y="489" width="1" height="29" fill="#00ff00"/>
<rect x="1293" y="498" width="3" height="4" fill="#00ff00"/>
<rect x="1298" y="480" width="1" height="28" fill="#ff0000"/>
<rect x="1297" y="491" width="3" height="10" fill="#ff0000"/>
<rect x="1302" y="486" width="1" height="19" fill="#ff0000"/>
<rect x="1301" y="489" width="3" height="1" fill="#ff0000"/>
<polyline points="2.5,69.0 6.5,74.5 10.5,93.5 14.5,127.5 18.5,167.5 22.5,212.9 26.5,259.9 30.5,299.5 34.5,323.1 38.5,344.1 42.5,350.5 46.5,354.1 50.5,353.5 54.5,350.5 58.5,344.3 62.5,347.5 66.5,346.1 70.5,339.1 74.5,326.1 78.5,317.1 82.5,303.9 86.5,305.7 90.5,314.9 94.5,326.9 98.5,339.7 102.5,360.1 106.5,378.3 110.5,397.3 114.5,422.3 118.5,443.7 122.5,453.9 126.5,448.5 130.5,424.3 134.5,397.1 138.5,376.7 142.5,350.1 146.5,338.1 150.5,341.1 154.5,334.1 158.5,335.1 162.5,345.3 166.5,348.3 170.5,346.1 174.5,367.9 178.5,378.3 182.5,386.5 186.5,401.5 190.5,414.1 194.5,410.3 198.5,416.9 202.5,420.1 206.5,403.9 210.5,384.9 214.5,366.3 218.5,336.1 222.5,298.1 226.5,269.7 230.5,249.3 234.5,236.3 238.5,225.5 242.5,231.5 246.5,249.7 250.5,267.9 254.5,278.7 258.5,289.1 262.5,294.7 266.5,297.5 270.5,295.5 274.5,290.7 278.5,281.7 282.5,271.1 286.5,255.5 290.5,246.5 294.5,237.1 298.5,238.9 302.5,247.1 306.5,253.9 310.5,260.3 314.5,270.7 318.5,282.9 322.5,283.3 326.5,278.1 330.5,271.7 334.5,278.7 338.5,277.7 342.5,282.9 346.5,284.5 350.5,292.7 354.5,289.1 358.5,281.3 362.5,277.5 366.5,282.3 370.5,276.5 374.5,272.1 378.5,270.7 382.5,269.7 386.5,258.3 390.5,244.7 394.5,225.9 398.5,214.5 402.5,198.5 406.5,195.1 410.5,200.7 414.5,212.3 418.5,211.3 422.5,216.9 426.5,219.1 430.5,216.5 434.5,208.5 438.5,209.7 442.5,199.9 446.5,200.1 450.5,202.5 454.5,201.9 458.5,200.9 462.5,209.7 466.5,206.7 470.5,199.5 474.5,204.5 478.5,209.3 482.5,210.3 486.5,215.3 490.5,216.3 494.5,216.9 498.5,216.3 502.5,214.3 506.5,205.9 510.5,196.7 514.5,186.7 518.5,173.9 522.5,162.1 526.5,162.5 530.5,179.9 534.5,194.3 538.5,216.5 542.5,250.7 546.5,280.3 550.5,303.3 554.5,320.3 558.5,331.3 562.5,324.9 566.5,307.9 570.5,284.5 574.5,269.3 578.5,255.1 582.5,250.3 586.5,276.3 590.5,304.7 594.5,332.1 598.5,361.3 602.5,391.1 606.5,405.7 610.5,421.9 614.5,439.5 618.5,456.9 622.5,462.3 626.5,461.1 630.5,467.9 634.5,473.7 638.5,469.7 642.5,475.3 646.5,479.5 650.5,471.5 654.5,464.7 658.5,470.1 662.5,476.7 666.5,485.3 670.5,498.3 674.5,506.5 678.5,511.1 682.5,503.9 686.5,498.7 690.5,493.3 694.5,482.3 698.5,467.7 702.5,461.3 706.5,449.5 710.5,432.7 714.5,424.7 718.5,422.9 722.5,417.9 726.5,418.7 730.5,415.9 734.5,409.1 738.5,400.5 742.5,396.5 746.5,379.9 750.5,361.3 754.5,357.7 758.5,355.1 762.5,352.5 766.5,355.5 770.5,371.9 774.5,360.3 778.5,346.1 782.5,336.5 786.5,331.1 790.5,318.3 794.5,316.9 798.5,323.7 802.5,320.9 806.5,313.7 810.5,314.3 814.5,322.3 818.5,322.7 822.5,321.1 826.5,324.3 830.5,326.3 834.5,319.5 838.5,312.9 842.5,308.9 846.5,316.1 850.5,325.5 854.5,347.7 858.5,368.9 862.5,397.5 866.5,409.3 870.5,412.9 874.5,407.5 878.5,394.9 882.5,374.1 886.5,363.1 890.5,353.1 894.5,341.9 898.5,341.9 902.5,343.9 906.5,338.7 910.5,338.7 914.5,343.3 918.5,340.3 922.5,340.5 926.5,344.1 930.5,347.9 934.5,349.3 938.5,356.7 942.5,349.7 946.5,339.3 950.5,326.3 954.5,314.3 958.5,303.3 962.5,300.7 966.5,300.1 970.5,307.3 974.5,328.7 978.5,344.7 982.5,360.1 986.5,379.1 990.5,392.5 994.5,398.7 998.5,408.1 1002.5,423.9 1006.5,438.7 1010.5,454.7 1014.5,460.5 1018.5,469.3 1022.5,477.7 1026.5,483.5 1030.5,486.5 1034.5,489.5 1038.5,473.7 1042.5,462.3 1046.5,449.5 1050.5,437.3 1054.5,427.1 1058.5,430.3 1062.5,424.7 1066.5,420.5 1070.5,410.3 1074.5,398.5 1078.5,390.3 1082.5,382.9 1086.5,372.7 1090.5,366.9 1094.5,368.1 1098.5,365.1 1102.5,367.3 1106.5,369.5 1110.5,363.3 1114.5,355.3 1118.5,347.3 1122.5,335.3 1126.5,322.7 1130.5,323.5 1134.5,321.9 1138.5,322.1 1142.5,324.3 1146.5,329.3 1150.5,327.3 1154.5,325.9 1158.5,333.9 1162.5,348.5 1166.5,350.5 1170.5,357.9 1174.5,367.9 1178.5,367.9 1182.5,363.1 1186.5,374.5 1190.5,382.5 1194.5,389.1 1198.5,401.1 1202.5,409.9 1206.5,421.3 1210.5,431.7 1214.5,433.9 1218.5,430.9 1222.5,428.3 1226.5,422.1 1230.5,417.1 1234.5,424.1 1238.5,436.7 1242.5,451.3 1246.5,465.9 1250.5,494.5 1254.5,514.3 1258.5,530.7 1262.5,544.1 1266.5,554.5 1270.5,554.3 1274.5,549.9 1278.5,540.7 1282.5,523.7 1286.5,514.1 1290.5,501.1 1294.5,495.7 1298.5,491.7 1302.5,496.1" fill="none" stroke="#ffa500" stroke-width="1" />
<polyline points="2.5,124.0 6.5,114.5 10.5,111.5 14.5,112.5 18.5,117.5 22.5,126.5 26.5,141.5 30.5,157.5 34.5,172.5 38.5,191.5 42.5,210.5 46.5,233.5 50.5,255.5 54.5,282.7 58.5,299.9 62.5,318.8 66.5,331.1 70.5,336.3 74.5,339.4 78.5,337.1 82.5,334.5 86.5,333.3 90.5,333.4 94.5,333.2 98.5,333.3 102.5,336.6 106.5,342.1 110.5,350.1 114.5,361.1 118.5,367.6 122.5,375.1 126.5,381.2 130.5,385.1 134.5,389.6 138.5,393.6 142.5,391.0 146.5,389.5 150.5,390.2 154.5,387.6 158.5,384.7 162.5,379.2 166.5,372.0 170.5,363.0 174.5,360.6 178.5,357.7 182.5,357.1 186.5,363.9 190.5,369.1 194.5,372.6 198.5,381.6 202.5,386.4 206.5,386.3 210.5,387.2 214.5,383.7 218.5,378.3 222.5,368.4 226.5,359.0 230.5,344.9 234.5,333.0 238.5,320.8 242.5,307.7 246.5,300.3 250.5,294.0 254.5,283.6 258.5,274.0 262.5,268.7 266.5,269.1 270.5,268.7 274.5,267.4 278.5,268.1 282.5,269.2 286.5,271.3 290.5,272.4 294.5,271.6 298.5,270.8 302.5,268.3 306.5,266.3 310.5,265.8 314.5,265.0 318.5,266.6 322.5,263.2 326.5,260.1 330.5,259.0 334.5,263.9 338.5,268.9 342.5,273.0 346.5,273.6 350.5,278.9 354.5,281.9 358.5,281.1 362.5,281.4 366.5,281.5 370.5,280.9 374.5,278.0 378.5,276.6 382.5,278.4 386.5,276.7 390.5,268.8 394.5,259.5 398.5,252.2 402.5,247.7 406.5,241.9 410.5,237.2 414.5,234.9 418.5,228.6 422.5,224.4 426.5,221.4 430.5,217.4 434.5,212.6 438.5,207.1 442.5,203.5 446.5,205.4 450.5,209.0 454.5,208.1 458.5,208.0 462.5,208.7 466.5,207.6 470.5,204.4 474.5,205.7 478.5,205.3 482.5,205.6 486.5,207.1 490.5,207.2 494.5,208.3 498.5,211.1 502.5,210.6 506.5,208.4 510.5,205.4 514.5,203.2 518.5,198.4 522.5,194.7 526.5,195.1 530.5,196.6 534.5,197.9 538.5,200.6 542.5,207.4 546.5,218.0 550.5,227.4 554.5,235.0 558.5,242.4 562.5,249.9 566.5,257.7 570.5,262.4 574.5,269.1 578.5,275.6 582.5,281.2 586.5,292.1 590.5,301.8 594.5,310.4 598.5,315.1 602.5,320.8 606.5,328.7 610.5,338.1 614.5,349.0 618.5,362.2 622.5,375.9 626.5,391.8 630.5,409.0 634.5,427.1 638.5,440.6 642.5,447.0 646.5,454.2 650.5,458.8 654.5,464.0 658.5,468.8 662.5,472.4 666.5,476.9 670.5,479.8 674.5,481.7 678.5,486.2 682.5,487.6 686.5,487.9 690.5,486.8 694.5,486.2 698.5,483.5 702.5,481.1 706.5,480.0 710.5,475.4 714.5,470.0 718.5,464.3 722.5,457.1 726.5,451.6 730.5,443.0 734.5,433.6 738.5,427.4 742.5,420.6 746.5,411.1 750.5,399.8 754.5,394.3 758.5,389.4 762.5,385.9 766.5,383.5 770.5,380.9 774.5,371.9 778.5,363.8 782.5,356.6 786.5,353.2 790.5,348.5 794.5,342.1 798.5,337.8 802.5,335.5 806.5,336.2 810.5,333.0 814.5,330.4 818.5,327.1 822.5,323.2 826.5,319.2 830.5,320.9 834.5,320.9 838.5,318.7 842.5,315.3 846.5,318.4 850.5,323.9 854.5,329.4 858.5,335.9 862.5,345.2 866.5,352.4 870.5,356.3 874.5,359.7 878.5,362.2 882.5,363.0 886.5,365.5 890.5,368.3 894.5,370.1 898.5,374.0 902.5,372.9 906.5,370.2 910.5,365.1 914.5,360.9 918.5,353.6 922.5,348.4 926.5,345.6 930.5,343.8 934.5,344.6 938.5,347.4 942.5,343.6 946.5,340.7 950.5,338.2 954.5,334.8 958.5,332.9 962.5,330.0 966.5,326.9 970.5,325.4 974.5,330.6 978.5,334.4 982.5,335.7 986.5,338.1 990.5,340.8 994.5,345.6 998.5,355.2 1002.5,365.9 1006.5,378.2 1010.5,390.9 1014.5,401.8 1018.5,415.4 1022.5,429.4 1026.5,441.1 1030.5,447.3 1034.5,453.5 1038.5,456.0 1042.5,459.1 1046.5,461.5 1050.5,461.1 1054.5,460.3 1058.5,458.3 1062.5,454.1 1066.5,449.3 1070.5,443.1 1074.5,435.0 1078.5,427.1 1082.5,418.1 1086.5,408.6 1090.5,399.4 1094.5,397.3 1098.5,392.4 1102.5,388.8 1106.5,384.4 1110.5,376.6 1114.5,370.5 1118.5,364.7 1122.5,358.4 1126.5,353.1 1130.5,349.8 1134.5,346.1 1138.5,343.0 1142.5,341.1 1146.5,339.7 1150.5,335.2 1154.5,332.1 1158.5,331.1 1162.5,333.6 1166.5,335.1 1170.5,336.1 1174.5,339.4 1178.5,342.7 1182.5,348.0 1186.5,353.4 1190.5,357.8 1194.5,363.4 1198.5,370.1 1202.5,376.8 1206.5,386.9 1210.5,395.6 1214.5,399.1 1218.5,399.6 1222.5,404.6 1226.5,409.9 1230.5,413.1 1234.5,419.1 1238.5,425.9 1242.5,432.0 1246.5,439.6 1250.5,450.8 1254.5,459.6 1258.5,469.0 1262.5,475.9 1266.5,483.5 1270.5,493.8 1274.5,502.1 1278.5,509.1 1282.5,512.1 1286.5,518.1 1290.5,521.3 1294.5,523.1 1298.5,523.6 1302.5,522.9" fill="none" stroke="#ff0000" stroke-width="1" />
<polyline points="2.5,217.5 6.5,211.5 10.5,206.5 14.5,203.5 18.5,200.5 22.5,198.0 26.5,196.5 30.5,201.5 34.5,204.5 38.5,205.5 42.5,206.5 46.5,209.5 50.5,212.5 54.5,215.5 58.5,218.5 62.5,220.0 66.5,222.0 70.5,224.0 74.5,226.5 78.5,228.5 82.5,230.5 86.5,238.5 90.5,248.5 94.5,256.5 98.5,264.5 102.5,273.5 106.5,284.5 110.5,294.5 114.5,306.5 118.5,326.1 122.5,338.1 126.5,348.8 130.5,354.8 134.5,357.7 138.5,360.9 142.5,361.0 146.5,361.8 150.5,361.7 154.5,359.5 158.5,359.4 162.5,360.1 166.5,360.8 170.5,360.5 174.5,362.4 178.5,365.1 182.5,366.6 186.5,370.1 190.5,373.0 194.5,376.4 198.5,381.7 202.5,386.0 206.5,386.4 210.5,384.6 214.5,383.0 218.5,381.1 222.5,375.7 226.5,368.3 230.5,360.0 234.5,352.0 238.5,344.8 242.5,338.6 246.5,335.2 250.5,333.9 254.5,332.3 258.5,330.2 262.5,329.4 266.5,328.4 270.5,326.3 274.5,325.0 278.5,321.3 282.5,317.0 286.5,313.0 290.5,309.7 294.5,303.2 298.5,298.0 302.5,293.8 306.5,288.4 310.5,284.1 314.5,280.0 318.5,275.7 322.5,271.0 326.5,267.4 330.5,265.2 334.5,265.4 338.5,266.0 342.5,268.4 346.5,269.9 350.5,272.4 354.5,274.2 358.5,275.3 362.5,276.1 366.5,275.3 370.5,273.9 374.5,273.1 378.5,272.2 382.5,271.9 386.5,268.8 390.5,265.4 394.5,262.3 398.5,261.0 402.5,259.8 406.5,258.7 410.5,257.8 414.5,258.1 418.5,256.4 422.5,254.8 426.5,252.9 430.5,250.5 434.5,247.8 438.5,244.2 442.5,240.9 446.5,239.9 450.5,238.9 454.5,235.0 458.5,231.4 462.5,228.7 466.5,226.9 470.5,223.4 474.5,220.9 478.5,219.4 482.5,217.5 486.5,215.8 490.5,213.4 494.5,211.7 498.5,210.3 502.5,208.3 506.5,207.0 510.5,205.4 514.5,205.1 518.5,203.6 522.5,202.2 526.5,201.6 530.5,201.9 534.5,202.1 538.5,204.4 542.5,207.8 546.5,211.8 550.5,216.4 554.5,220.8 558.5,224.7 562.5,228.7 566.5,229.8 570.5,230.0 574.5,232.0 578.5,233.7 582.5,235.4 586.5,241.4 590.5,247.6 594.5,253.3 598.5,259.1 602.5,265.6 606.5,273.1 610.5,281.8 614.5,290.4 618.5,299.2 622.5,306.9 626.5,315.6 630.5,327.0 634.5,338.2 638.5,348.5 642.5,359.1 646.5,368.5 650.5,375.6 654.5,383.3 658.5,390.7 662.5,396.8 666.5,402.6 670.5,408.1 674.5,414.3 678.5,420.7 682.5,426.6 686.5,434.4 690.5,442.9 694.5,449.8 698.5,456.1 702.5,461.8 706.5,463.3 710.5,464.3 714.5,465.2 718.5,466.4 722.5,466.2 726.5,465.5 730.5,463.3 734.5,460.2 738.5,457.0 742.5,455.3 746.5,451.9 750.5,445.5 754.5,440.8 758.5,437.9 762.5,434.8 766.5,431.3 770.5,428.9 774.5,423.4 778.5,417.2 782.5,411.4 786.5,405.6 790.5,398.9 794.5,391.8 798.5,386.0 802.5,380.9 806.5,374.7 810.5,369.1 814.5,365.2 818.5,361.8 822.5,357.6 826.5,353.9 830.5,351.3 834.5,347.6 838.5,343.5 842.5,339.4 846.5,336.8 850.5,336.3 854.5,337.4 858.5,338.2 862.5,339.6 866.5,341.7 870.5,344.9 874.5,345.7 878.5,344.9 882.5,343.2 886.5,342.9 890.5,341.7 894.5,342.6 898.5,344.2 902.5,344.4 906.5,344.2 910.5,345.1 914.5,347.0 918.5,346.9 922.5,347.7 926.5,349.3 930.5,350.7 934.5,351.5 938.5,352.6 942.5,352.4 946.5,351.8 950.5,350.7 954.5,350.7 958.5,351.0 962.5,351.1 966.5,349.1 970.5,347.7 974.5,347.5 978.5,347.0 982.5,344.8 986.5,344.1 990.5,344.3 994.5,346.0 998.5,349.2 1002.5,353.1 1006.5,356.7 1010.5,361.2 1014.5,365.8 1018.5,370.4 1022.5,375.4 1026.5,380.8 1030.5,385.9 1034.5,390.2 1038.5,392.6 1042.5,395.7 1046.5,398.4 1050.5,400.8 1054.5,403.1 1058.5,404.9 1062.5,408.2 1066.5,411.9 1070.5,414.8 1074.5,417.2 1078.5,419.4 1082.5,421.9 1086.5,424.0 1090.5,424.7 1094.5,423.7 1098.5,422.8 1102.5,423.1 1106.5,422.4 1110.5,419.8 1114.5,416.5 1118.5,412.7 1122.5,408.4 1126.5,403.1 1130.5,398.0 1134.5,393.4 1138.5,388.1 1142.5,382.8 1146.5,377.4 1150.5,371.4 1154.5,366.1 1158.5,364.8 1162.5,363.8 1166.5,360.9 1170.5,358.2 1174.5,356.3 1178.5,354.4 1182.5,353.6 1186.5,353.2 1190.5,353.6 1194.5,354.7 1198.5,356.2 1202.5,358.1 1206.5,361.3 1210.5,364.4 1214.5,365.7 1218.5,367.2 1222.5,368.2 1226.5,370.1 1230.5,373.3 1234.5,377.1 1238.5,382.1 1242.5,387.6 1246.5,393.9 1250.5,401.8 1254.5,409.2 1258.5,416.9 1262.5,424.2 1266.5,431.5 1270.5,439.7 1274.5,446.5 1278.5,451.3 1282.5,453.4 1286.5,458.7 1290.5,463.5 1294.5,467.8 1298.5,472.0 1302.5,475.6" fill="none" stroke="#0000ff" stroke-width="1" />
<rect x="2" y="123" width="1636" height="2" fill="#ff0000"/>
<rect x="2" y="227" width="1636" height="2" fill="#ff0000"/>
<rect x="2" y="338" width="1636" height="2" fill="#ff0000"/>
<rect x="2" y="434" width="1636" height="2" fill="#00ff00"/>
<rect x="2" y="526" width="1636" height="2" fill="#0000ff"/>
<line x1="2" y1="623.5" x2="1638" y2="623.5" stroke="#c0c0c0" stroke-width="1" stroke-dasharray="3,3"/>
<line x1="2" y1="664.5" x2="1638" y2="664.5" stroke="#c0c0c0" stroke-width="1" stroke-dasharray="3,3"/>
<polyline points="2.5,626.0 6.5,628.4 10.5,641.9 14.5,652.7 18.5,651.9 22.5,657.9 26.5,659.6 30.5,662.6 34.5,663.2 38.5,660.0 42.5,657.7 46.5,658.2 50.5,659.9 54.5,658.9 58.5,652.2 62.5,656.4 66.5,653.0 70.5,650.8 74.5,644.8 78.5,642.6 82.5,644.8 86.5,652.9 90.5,655.9 94.5,652.1 98.5,650.3 102.5,656.6 106.5,661.2 110.5,663.8 114.5,664.6 118.5,659.1 122.5,658.1 126.5,652.2 130.5,642.3 134.5,641.5 138.5,642.5 142.5,637.5 146.5,643.8 150.5,645.2 154.5,637.7 158.5,644.1 162.5,645.4 166.5,646.1 170.5,643.7 174.5,652.0 178.5,650.3 182.5,650.1 186.5,654.9 190.5,650.2 194.5,647.3 198.5,652.5 202.5,649.6 206.5,641.3 210.5,636.3 214.5,634.6 218.5,632.7 222.5,627.3 226.5,626.4 230.5,626.2 234.5,630.2 238.5,629.5 242.5,634.6 246.5,642.9 250.5,642.6 254.5,640.2 258.5,639.1 262.5,639.6 266.5,646.1 270.5,641.7 274.5,637.3 278.5,633.4 282.5,632.8 286.5,635.2 290.5,636.7 294.5,632.0 298.5,637.5 302.5,642.5 306.5,643.4 310.5,644.3 314.5,642.0 318.5,648.7 322.5,642.7 326.5,638.9 330.5,638.7 334.5,648.5 338.5,647.8 342.5,647.6 346.5,640.0 350.5,645.7 354.5,645.0 358.5,640.6 362.5,644.1 366.5,644.5 370.5,640.5 374.5,641.2 378.5,639.2 382.5,643.8 386.5,634.9 390.5,630.3 394.5,627.4 398.5,633.4 402.5,633.2 406.5,636.1 410.5,638.9 414.5,640.4 418.5,634.2 422.5,640.8 426.5,640.0 430.5,638.1 434.5,634.6 438.5,637.0 442.5,632.9 446.5,642.8 450.5,642.8 454.5,636.6 458.5,638.4 462.5,643.5 466.5,641.0 470.5,637.3 474.5,642.7 478.5,644.1 482.5,645.3 486.5,646.7 490.5,638.4 494.5,643.4 498.5,643.6 502.5,643.4 506.5,638.2 510.5,630.6 514.5,635.4 518.5,633.3 522.5,634.3 526.5,642.4 530.5,649.7 534.5,650.5 538.5,654.7 542.5,662.6 546.5,664.0 550.5,664.7 554.5,658.7 558.5,657.8 562.5,652.6 566.5,644.8 570.5,640.6 574.5,643.5 578.5,643.6 582.5,647.9 586.5,662.1 590.5,659.6 594.5,660.7 598.5,661.7 602.5,664.4 606.5,667.7 610.5,666.5 614.5,668.1 618.5,668.9 622.5,661.1 626.5,661.7 630.5,665.3 634.5,666.6 638.5,657.5 642.5,659.3 646.5,658.9 650.5,653.2 654.5,655.8 658.5,658.6 662.5,661.1 666.5,662.1 670.5,661.0 674.5,659.7 678.5,660.2 682.5,650.3 686.5,653.4 690.5,652.2 694.5,644.7 698.5,641.7 702.5,642.3 706.5,640.4 710.5,634.6 714.5,637.4 718.5,641.3 722.5,638.6 726.5,643.3 730.5,634.3 734.5,632.9 738.5,634.6 742.5,637.1 746.5,630.0 750.5,622.9 754.5,636.5 758.5,638.6 762.5,640.3 766.5,638.1 770.5,639.8 774.5,629.9 778.5,629.8 782.5,636.2 786.5,637.3 790.5,633.4 794.5,631.3 798.5,638.9 802.5,636.7 806.5,634.5 810.5,636.7 814.5,640.5 818.5,640.9 822.5,636.7 826.5,638.4 830.5,639.5 834.5,635.3 838.5,636.0 842.5,633.9 846.5,647.3 850.5,649.9 854.5,655.8 858.5,655.4 862.5,658.8 866.5,654.2 870.5,649.0 874.5,648.0 878.5,640.9 882.5,638.3 886.5,643.8 890.5,640.4 894.5,638.5 898.5,642.1 902.5,641.0 906.5,639.7 910.5,641.0 914.5,643.7 918.5,639.6 922.5,641.9 926.5,644.2 930.5,645.8 934.5,645.8 938.5,648.3 942.5,634.4 946.5,633.1 950.5,632.1 954.5,633.5 958.5,637.8 962.5,633.7 966.5,634.6 970.5,643.5 974.5,657.2 978.5,654.4 982.5,649.4 986.5,652.8 990.5,653.6 994.5,659.4 998.5,659.9 1002.5,661.1 1006.5,663.2 1010.5,664.6 1014.5,661.4 1018.5,664.0 1022.5,664.9 1026.5,665.3 1030.5,664.3 1034.5,660.4 1038.5,641.2 1042.5,646.9 1046.5,646.1 1050.5,646.1 1054.5,645.8 1058.5,643.9 1062.5,640.3 1066.5,641.1 1070.5,634.5 1074.5,632.7 1078.5,635.7 1082.5,633.4 1086.5,631.1 1090.5,629.6 1094.5,637.8 1098.5,635.4 1102.5,639.8 1106.5,637.2 1110.5,627.7 1114.5,632.6 1118.5,630.7 1122.5,629.8 1126.5,627.4 1130.5,632.7 1134.5,634.2 1138.5,633.8 1142.5,635.4 1146.5,635.4 1150.5,631.1 1154.5,634.1 1158.5,647.4 1162.5,655.3 1166.5,641.0 1170.5,642.8 1174.5,646.9 1178.5,645.9 1182.5,648.6 1186.5,652.0 1190.5,650.0 1194.5,652.7 1198.5,656.5 1202.5,655.9 1206.5,661.0 1210.5,657.2 1214.5,650.2 1218.5,649.2 1222.5,649.2 1226.5,652.0 1230.5,650.0 1234.5,656.6 1238.5,660.6 1242.5,662.1 1246.5,664.0 1250.5,671.3 1254.5,667.9 1258.5,668.7 1262.5,667.1 1266.5,666.4 1270.5,667.8 1274.5,657.4 1278.5,652.7 1282.5,642.6 1286.5,649.2 1290.5,647.7 1294.5,648.8 1298.5,646.5 1302.5,646.1" fill="none" stroke="#1e90ff" stroke-width="1"/>
<rect x="1639" y="593" width="2" height="1" fill="#000"/>
<rect x="1639" y="694" width="2" height="1" fill="#000"/>
<rect x="2" y="706" width="1" height="47" fill="#c0c0c0"/>
<rect x="6" y="708" width="1" height="45" fill="#c0c0c0"/>
<rect x="10" y="714" width="1" height="39" fill="#c0c0c0"/>
<rect x="14" y="724" width="1" height="29" fill="#c0c0c0"/>
<rect x="18" y="732" width="1" height="21" fill="#c0c0c0"/>
<rect x="22" y="742" width="1" height="11" fill="#c0c0c0"/>
<rect x="26" y="751" width="1" height="2" fill="#c0c0c0"/>
<rect x="30" y="752" width="1" height="9" fill="#c0c0c0"/>
<rect x="34" y="752" width="1" height="16" fill="#c0c0c0"/>
<rect x="38" y="752" width="1" height="20" fill="#c0c0c0"/>
<rect x="42" y="752" width="1" height="23" fill="#c0c0c0"/>
<rect x="46" y="752" width="1" height="25" fill="#c0c0c0"/>
<rect x="50" y="752" width="1" height="27" fill="#c0c0c0"/>
<rect x="54" y="752" width="1" height="29" fill="#c0c0c0"/>
<rect x="58" y="752" width="1" height="27" fill="#c0c0c0"/>
<rect x="62" y="752" width="1" height="28" fill="#c0c0c0"/>
<rect x="66" y="752" width="1" height="27" fill="#c0c0c0"/>
<rect x="70" y="752" width="1" height="26" fill="#c0c0c0"/>
<rect x="74" y="752" width="1" height="22" fill="#c0c0c0"/>
<rect x="78" y="752" width="1" height="18" fill="#c0c0c0"/>
<rect x="82" y="752" width="1" height="16" fill="#c0c0c0"/>
<rect x="86" y="752" width="1" height="17" fill="#c0c0c0"/>
<rect x="90" y="752" width="1" height="19" fill="#c0c0c0"/>
<rect x="94" y="752" width="1" height="19" fill="#c0c0c0"/>
<rect x="98" y="752" width="1" height="19" fill="#c0c0c0"/>
<rect x="102" y="752" width="1" height="21" fill="#c0c0c0"/>
<rect x="106" y="752" width="1" height="25" fill="#c0c0c0"/>
<rect x="110" y="752" width="1" height="29" fill="#c0c0c0"/>
<rect x="114" y="752" width="1" height="33" fill="#c0c0c0"/>
<rect x="118" y="752" width="1" height="34" fill="#c0c0c0"/>
<rect x="122" y="752" width="1" height="34" fill="#c0c0c0"/>
<rect x="126" y="752" width="1" height="32" fill="#c0c0c0"/>
<rect x="130" y="752" width="1" height="27" fill="#c0c0c0"/>
<rect x="134" y="752" width="1" height="22" fill="#c0c0c0"/>
<rect x="138" y="752" width="1" height="18" fill="#c0c0c0"/>
<rect x="142" y="752" width="1" height="13" fill="#c0c0c0"/>
<rect x="146" y="752" width="1" height="11" fill="#c0c0c0"/>
<rect x="150" y="752" width="1" height="10" fill="#c0c0c0"/>
<rect x="154" y="752" width="1" height="6" fill="#c0c0c0"/>
<rect x="158" y="752" width="1" height="5" fill="#c0c0c0"/>
<rect x="162" y="752" width="1" height="5" fill="#c0c0c0"/>
<rect x="166" y="752" width="1" height="5" fill="#c0c0c0"/>
<rect x="170" y="752" width="1" height="4" fill="#c0c0c0"/>
<rect x="174" y="752" width="1" height="7" fill="#c0c0c0"/>
<rect x="178" y="752" width="1" height="9" fill="#c0c0c0"/>
<rect x="182" y="752" width="1" height="10" fill="#c0c0c0"/>
<rect x="186" y="752" width="1" height="13" fill="#c0c0c0"/>
<rect x="190" y="752" width="1" height="14" fill="#c0c0c0"/>
<rect x="194" y="752" width="1" height="13" fill="#c0c0c0"/>
<rect x="198" y="752" width="1" height="15" fill="#c0c0c0"/>
<rect x="202" y="752" width="1" height="15" fill="#c0c0c0"/>
<rect x="206" y="752" width="1" height="11" fill="#c0c0c0"/>
<rect x="210" y="752" width="1" height="6" fill="#c0c0c0"/>
<rect x="214" y="752" width="1" height="1" fill="#c0c0c0"/>
<rect x="218" y="748" width="1" height="5" fill="#c0c0c0"/>
<rect x="222" y="741" width="1" height="12" fill="#c0c0c0"/>
<rect x="226" y="735" width="1" height="18" fill="#c0c0c0"/>
<rect x="230" y="731" width="1" height="22" fill="#c0c0c0"/>
<rect x="234" y="728" width="1" height="25" fill="#c0c0c0"/>
<rect x="238" y="727" width="1" height="26" fill="#c0c0c0"/>
<rect x="242" y="727" width="1" height="26" fill="#c0c0c0"/>
<rect x="246" y="731" width="1" height="22" fill="#c0c0c0"/>
<rect x="250" y="734" width="1" height="19" fill="#c0c0c0"/>
<rect x="254" y="735" width="1" height="18" fill="#c0c0c0"/>
<rect x="258" y="736" width="1" height="17" fill="#c0c0c0"/>
<rect x="262" y="737" width="1" height="16" fill="#c0c0c0"/>
<rect x="266" y="740" width="1" height="13" fill="#c0c0c0"/>
<rect x="270" y="741" width="1" height="12" fill="#c0c0c0"/>
<rect x="274" y="741" width="1" height="12" fill="#c0c0c0"/>
<rect x="278" y="739" width="1" height="14" fill="#c0c0c0"/>
<rect x="282" y="737" width="1" height="16" fill="#c0c0c0"/>
<rect x="286" y="737" width="1" height="16" fill="#c0c0c0"/>
<rect x="290" y="737" width="1" height="16" fill="#c0c0c0"/>
<rect x="294" y="735" width="1" height="18" fill="#c0c0c0"/>
<rect x="298" y="736" width="1" height="17" fill="#c0c0c0"/>
<rect x="302" y="738" width="1" height="15" fill="#c0c0c0"/>
<rect x="306" y="740" width="1" height="13" fill="#c0c0c0"/>
<rect x="310" y="742" width="1" height="11" fill="#c0c0c0"/>
<rect x="314" y="743" width="1" height="10" fill="#c0c0c0"/>
<rect x="318" y="746" width="1" height="7" fill="#c0c0c0"/>
<rect x="322" y="747" width="1" height="6" fill="#c0c0c0"/>
<rect x="326" y="746" width="1" height="7" fill="#c0c0c0"/>
<rect x="330" y="745" width="1" height="8" fill="#c0c0c0"/>
<rect x="334" y="748" width="1" height="5" fill="#c0c0c0"/>
<rect x="338" y="750" width="1" height="3" fill="#c0c0c0"/>
<rect x="342" y="751" width="1" height="2" fill="#c0c0c0"/>
<rect x="346" y="750" width="1" height="3" fill="#c0c0c0"/>
<rect x="350" y="751" width="1" height="2" fill="#c0c0c0"/>
<rect x="354" y="752" width="1" height="1" fill="#c0c0c0"/>
<rect x="358" y="751" width="1" height="2" fill="#c0c0c0"/>
<rect x="362" y="751" width="1" height="2" fill="#c0c0c0"/>
<rect x="366" y="751" width="1" height="2" fill="#c0c0c0"/>
<rect x="370" y="750" width="1" height="3" fill="#c0c0c0"/>
<rect x="374" y="750" width="1" height="3" fill="#c0c0c0"/>
<rect x="378" y="749" width="1" height="4" fill="#c0c0c0"/>
<rect x="382" y="749" width="1" height="4" fill="#c0c0c0"/>
<rect x="386" y="747" width="1" height="6" fill="#c0c0c0"/>
<rect x="390" y="744" width="1" height="9" fill="#c0c0c0"/>
<rect x="394" y="740" width="1" height="13" fill="#c0c0c0"/>
<rect x="398" y="738" width="1" height="15" fill="#c0c0c0"/>
<rect x="402" y="737" width="1" height="16" fill="#c0c0c0"/>
<rect x="406" y="737" width="1" height="16" fill="#c0c0c0"/>
<rect x="410" y="738" width="1" height="15" fill="#c0c0c0"/>
<rect x="414" y="739" width="1" height="14" fill="#c0c0c0"/>
<rect x="418" y="738" width="1" height="15" fill="#c0c0c0"/>
<rect x="422" y="739" width="1" height="14" fill="#c0c0c0"/>
<rect x="426" y="740" width="1" height="13" fill="#c0c0c0"/>
<rect x="430" y="741" width="1" height="12" fill="#c0c0c0"/>
<rect x="434" y="740" width="1" height="13" fill="#c0c0c0"/>
<rect x="438" y="740" width="1" height="13" fill="#c0c0c0"/>
<rect x="442" y="739" width="1" height="14" fill="#c0c0c0"/>
<rect x="446" y="740" width="1" height="13" fill="#c0c0c0"/>
<rect x="450" y="742" width="1" height="11" fill="#c0c0c0"/>
<rect x="454" y="741" width="1" height="12" fill="#c0c0c0"/>
<rect x="458" y="741" width="1" height="12" fill="#c0c0c0"/>
<rect x="462" y="743" width="1" height="10" fill="#c0c0c0"/>
<rect x="466" y="744" width="1" height="9" fill="#c0c0c0"/>
<rect x="470" y="743" width="1" height="10" fill="#c0c0c0"/>
<rect x="474" y="744" width="1" height="9" fill="#c0c0c0"/>
<rect x="478" y="745" width="1" height="8" fill="#c0c0c0"/>
<rect x="482" y="747" width="1" height="6" fill="#c0c0c0"/>
<rect x="486" y="748" width="1" height="5" fill="#c0c0c0"/>
<rect x="490" y="747" width="1" height="6" fill="#c0c0c0"/>
<rect x="494" y="748" width="1" height="5" fill="#c0c0c0"/>
<rect x="498" y="749" width="1" height="4" fill="#c0c0c0"/>
<rect x="502" y="749" width="1" height="4" fill="#c0c0c0"/>
<rect x="506" y="748" width="1" height="5" fill="#c0c0c0"/>
<rect x="510" y="745" width="1" height="8" fill="#c0c0c0"/>
<rect x="514" y="743" width="1" height="10" fill="#c0c0c0"/>
<rect x="518" y="742" width="1" height="11" fill="#c0c0c0"/>
<rect x="522" y="741" width="1" height="12" fill="#c0c0c0"/>
<rect x="526" y="742" width="1" height="11" fill="#c0c0c0"/>
<rect x="530" y="746" width="1" height="7" fill="#c0c0c0"/>
<rect x="534" y="749" width="1" height="4" fill="#c0c0c0"/>
<rect x="538" y="752" width="1" height="1" fill="#c0c0c0"/>
<rect x="542" y="752" width="1" height="8" fill="#c0c0c0"/>
<rect x="546" y="752" width="1" height="14" fill="#c0c0c0"/>
<rect x="550" y="752" width="1" height="18" fill="#c0c0c0"/>
<rect x="554" y="752" width="1" height="21" fill="#c0c0c0"/>
<rect x="558" y="752" width="1" height="22" fill="#c0c0c0"/>
<rect x="562" y="752" width="1" height="21" fill="#c0c0c0"/>
<rect x="566" y="752" width="1" height="18" fill="#c0c0c0"/>
<rect x="570" y="752" width="1" height="15" fill="#c0c0c0"/>
<rect x="574" y="752" width="1" height="12" fill="#c0c0c0"/>
<rect x="578" y="752" width="1" height="10" fill="#c0c0c0"/>
<rect x="582" y="752" width="1" height="10" fill="#c0c0c0"/>
<rect x="586" y="752" width="1" height="16" fill="#c0c0c0"/>
<rect x="590" y="752" width="1" height="20" fill="#c0c0c0"/>
<rect x="594" y="752" width="1" height="24" fill="#c0c0c0"/>
<rect x="598" y="752" width="1" height="26" fill="#c0c0c0"/>
<rect x="602" y="752" width="1" height="30" fill="#c0c0c0"/>
<rect x="606" y="752" width="1" height="35" fill="#c0c0c0"/>
<rect x="610" y="752" width="1" height="37" fill="#c0c0c0"/>
<rect x="614" y="752" width="1" height="40" fill="#c0c0c0"/>
<rect x="618" y="752" width="1" height="43" fill="#c0c0c0"/>
<rect x="622" y="752" width="1" height="42" fill="#c0c0c0"/>
<rect x="626" y="752" width="1" height="41" fill="#c0c0c0"/>
<rect x="630" y="752" width="1" height="42" fill="#c0c0c0"/>
<rect x="634" y="752" width="1" height="44" fill="#c0c0c0"/>
<rect x="638" y="752" width="1" height="42" fill="#c0c0c0"/>
<rect x="642" y="752" width="1" height="41" fill="#c0c0c0"/>
<rect x="646" y="752" width="1" height="39" fill="#c0c0c0"/>
<rect x="650" y="752" width="1" height="36" fill="#c0c0c0"/>
<rect x="654" y="752" width="1" height="34" fill="#c0c0c0"/>
<rect x="658" y="752" width="1" height="34" fill="#c0c0c0"/>
<rect x="662" y="752" width="1" height="34" fill="#c0c0c0"/>
<rect x="666" y="752" width="1" height="35" fill="#c0c0c0"/>
<rect x="670" y="752" width="1" height="34" fill="#c0c0c0"/>
<rect x="674" y="752" width="1" height="33" fill="#c0c0c0"/>
<rect x="678" y="752" width="1" height="32" fill="#c0c0c0"/>
<rect x="682" y="752" width="1" height="29" fill="#c0c0c0"/>
<rect x="686" y="752" width="1" height="27" fill="#c0c0c0"/>
<rect x="690" y="752" width="1" height="25" fill="#c0c0c0"/>
<rect x="694" y="752" width="1" height="22" fill="#c0c0c0"/>
<rect x="698" y="752" width="1" height="18" fill="#c0c0c0"/>
<rect x="702" y="752" width="1" height="15" fill="#c0c0c0"/>
<rect x="706" y="752" width="1" height="12" fill="#c0c0c0"/>
<rect x="710" y="752" width="1" height="7" fill="#c0c0c0"/>
<rect x="714" y="752" width="1" height="5" fill="#c0c0c0"/>
<rect x="718" y="752" width="1" height="3" fill="#c0c0c0"/>
<rect x="722" y="752" width="1" height="1" fill="#c0c0c0"/>
<rect x="726" y="752" width="1" height="1" fill="#c0c0c0"/>
<rect x="730" y="749" width="1" height="4" fill="#c0c0c0"/>
<rect x="734" y="747" width="1" height="6" fill="#c0c0c0"/>
<rect x="738" y="745" width="1" height="8" fill="#c0c0c0"/>
<rect x="742" y="744" width="1" height="9" fill="#c0c0c0"/>
<rect x="746" y="741" width="1" height="12" fill="#c0c0c0"/>
<rect x="750" y="736" width="1" height="17" fill="#c0c0c0"/>
<rect x="754" y="736" width="1" height="17" fill="#c0c0c0"/>
<rect x="758" y="736" width="1" height="17" fill="#c0c0c0"/>
<rect x="762" y="738" width="1" height="15" fill="#c0c0c0"/>
<rect x="766" y="738" width="1" height="15" fill="#c0c0c0"/>
<rect x="770" y="739" width="1" height="14" fill="#c0c0c0"/>
<rect x="774" y="735" width="1" height="18" fill="#c0c0c0"/>
<rect x="778" y="733" width="1" height="20" fill="#c0c0c0"/>
<rect x="782" y="733" width="1" height="20" fill="#c0c0c0"/>
<rect x="786" y="734" width="1" height="19" fill="#c0c0c0"/>
<rect x="790" y="733" width="1" height="20" fill="#c0c0c0"/>
<rect x="794" y="732" width="1" height="21" fill="#c0c0c0"/>
<rect x="798" y="733" width="1" height="20" fill="#c0c0c0"/>
<rect x="802" y="733" width="1" height="20" fill="#c0c0c0"/>
<rect x="806" y="733" width="1" height="20" fill="#c0c0c0"/>
<rect x="810" y="734" width="1" height="19" fill="#c0c0c0"/>
<rect x="814" y="735" width="1" height="18" fill="#c0c0c0"/>
<rect x="818" y="737" width="1" height="16" fill="#c0c0c0"/>
<rect x="822" y="737" width="1" height="16" fill="#c0c0c0"/>
<rect x="826" y="738" width="1" height="15" fill="#c0c0c0"/>
<rect x="830" y="739" width="1" height="14" fill="#c0c0c0"/>
<rect x="834" y="739" width="1" height="14" fill="#c0c0c0"/>
<rect x="838" y="739" width="1" height="14" fill="#c0c0c0"/>
<rect x="842" y="738" width="1" height="15" fill="#c0c0c0"/>
<rect x="846" y="741" width="1" height="12" fill="#c0c0c0"/>
<rect x="850" y="745" width="1" height="8" fill="#c0c0c0"/>
<rect x="854" y="750" width="1" height="3" fill="#c0c0c0"/>
<rect x="858" y="752" width="1" height="3" fill="#c0c0c0"/>
<rect x="862" y="752" width="1" height="7" fill="#c0c0c0"/>
<rect x="866" y="752" width="1" height="10" fill="#c0c0c0"/>
<rect x="870" y="752" width="1" height="10" fill="#c0c0c0"/>
<rect x="874" y="752" width="1" height="10" fill="#c0c0c0"/>
<rect x="878" y="752" width="1" height="8" fill="#c0c0c0"/>
<rect x="882" y="752" width="1" height="5" fill="#c0c0c0"/>
<rect x="886" y="752" width="1" height="4" fill="#c0c0c0"/>
<rect x="890" y="752" width="1" height="3" fill="#c0c0c0"/>
<rect x="894" y="752" width="1" height="1" fill="#c0c0c0"/>
<rect x="898" y="751" width="1" height="2" fill="#c0c0c0"/>
<rect x="902" y="750" width="1" height="3" fill="#c0c0c0"/>
<rect x="906" y="750" width="1" height="3" fill="#c0c0c0"/>
<rect x="910" y="749" width="1" height="4" fill="#c0c0c0"/>
<rect x="914" y="750" width="1" height="3" fill="#c0c0c0"/>
<rect x="918" y="749" width="1" height="4" fill="#c0c0c0"/>
<rect x="922" y="749" width="1" height="4" fill="#c0c0c0"/>
<rect x="926" y="749" width="1" height="4" fill="#c0c0c0"/>
<rect x="930" y="750" width="1" height="3" fill="#c0c0c0"/>
<rect x="934" y="751" width="1" height="2" fill="#c0c0c0"/>
<rect x="938" y="752" width="1" height="1" fill="#c0c0c0"/>
<rect x="942" y="750" width="1" height="3" fill="#c0c0c0"/>
<rect x="946" y="747" width="1" height="6" fill="#c0c0c0"/>
<rect x="950" y="745" width="1" height="8" fill="#c0c0c0"/>
<rect x="954" y="744" width="1" height="9" fill="#c0c0c0"/>
<rect x="958" y="744" width="1" height="9" fill="#c0c0c0"/>
<rect x="962" y="743" width="1" height="10" fill="#c0c0c0"/>
<rect x="966" y="742" width="1" height="11" fill="#c0c0c0"/>
<rect x="970" y="743" width="1" height="10" fill="#c0c0c0"/>
<rect x="974" y="749" width="1" height="4" fill="#c0c0c0"/>
<rect x="978" y="752" width="1" height="2" fill="#c0c0c0"/>
<rect x="982" y="752" width="1" height="3" fill="#c0c0c0"/>
<rect x="986" y="752" width="1" height="6" fill="#c0c0c0"/>
<rect x="990" y="752" width="1" height="8" fill="#c0c0c0"/>
<rect x="994" y="752" width="1" height="11" fill="#c0c0c0"/>
<rect x="998" y="752" width="1" height="14" fill="#c0c0c0"/>
<rect x="1002" y="752" width="1" height="17" fill="#c0c0c0"/>
<rect x="1006" y="752" width="1" height="20" fill="#c0c0c0"/>
<rect x="1010" y="752" width="1" height="23" fill="#c0c0c0"/>
<rect x="1014" y="752" width="1" height="24" fill="#c0c0c0"/>
<rect x="1018" y="752" width="1" height="26" fill="#c0c0c0"/>
<rect x="1022" y="752" width="1" height="27" fill="#c0c0c0"/>
<rect x="1026" y="752" width="1" height="28" fill="#c0c0c0"/>
<rect x="1030" y="752" width="1" height="28" fill="#c0c0c0"/>
<rect x="1034" y="752" width="1" height="28" fill="#c0c0c0"/>
<rect x="1038" y="752" width="1" height="23" fill="#c0c0c0"/>
<rect x="1042" y="752" width="1" height="20" fill="#c0c0c0"/>
<rect x="1046" y="752" width="1" height="18" fill="#c0c0c0"/>
<rect x="1050" y="752" width="1" height="16" fill="#c0c0c0"/>
<rect x="1054" y="752" width="1" height="14" fill="#c0c0c0"/>
<rect x="1058" y="752" width="1" height="12" fill="#c0c0c0"/>
<rect x="1062" y="752" width="1" height="9" fill="#c0c0c0"/>
<rect x="1066" y="752" width="1" height="7" fill="#c0c0c0"/>
<rect x="1070" y="752" width="1" height="4" fill="#c0c0c0"/>
<rect x="1074" y="752" width="1" height="1" fill="#c0c0c0"/>
<rect x="1078" y="750" width="1" height="3" fill="#c0c0c0"/>
<rect x="1082" y="748" width="1" height="5" fill="#c0c0c0"/>
<rect x="1086" y="746" width="1" height="7" fill="#c0c0c0"/>
<rect x="1090" y="744" width="1" height="9" fill="#c0c0c0"/>
<rect x="1094" y="744" width="1" height="9" fill="#c0c0c0"/>
<rect x="1098" y="743" width="1" height="10" fill="#c0c0c0"/>
<rect x="1102" y="744" width="1" height="9" fill="#c0c0c0"/>
<rect x="1106" y="743" width="1" height="10" fill="#c0c0c0"/>
<rect x="1110" y="741" width="1" height="12" fill="#c0c0c0"/>
<rect x="1114" y="740" width="1" height="13" fill="#c0c0c0"/>
<rect x="1118" y="738" width="1" height="15" fill="#c0c0c0"/>
<rect x="1122" y="737" width="1" height="16" fill="#c0c0c0"/>
<rect x="1126" y="736" width="1" height="17" fill="#c0c0c0"/>
<rect x="1130" y="735" width="1" height="18" fill="#c0c0c0"/>
<rect x="1134" y="736" width="1" height="17" fill="#c0c0c0"/>
<rect x="1138" y="736" width="1" height="17" fill="#c0c0c0"/>
<rect x="1142" y="737" width="1" height="16" fill="#c0c0c0"/>
<rect x="1146" y="738" width="1" height="15" fill="#c0c0c0"/>
<rect x="1150" y="738" width="1" height="15" fill="#c0c0c0"/>
<rect x="1154" y="738" width="1" height="15" fill="#c0c0c0"/>
<rect x="1158" y="741" width="1" height="12" fill="#c0c0c0"/>
<rect x="1162" y="746" width="1" height="7" fill="#c0c0c0"/>
<rect x="1166" y="746" width="1" height="7" fill="#c0c0c0"/>
<rect x="1170" y="746" width="1" height="7" fill="#c0c0c0"/>
<rect x="1174" y="748" width="1" height="5" fill="#c0c0c0"/>
<rect x="1178" y="749" width="1" height="4" fill="#c0c0c0"/>
<rect x="1182" y="751" width="1" height="2" fill="#c0c0c0"/>
<rect x="1186" y="752" width="1" height="2" fill="#c0c0c0"/>
<rect x="1190" y="752" width="1" height="4" fill="#c0c0c0"/>
<rect x="1194" y="752" width="1" height="6" fill="#c0c0c0"/>
<rect x="1198" y="752" width="1" height="8" fill="#c0c0c0"/>
<rect x="1202" y="752" width="1" height="10" fill="#c0c0c0"/>
<rect x="1206" y="752" width="1" height="13" fill="#c0c0c0"/>
<rect x="1210" y="752" width="1" height="15" fill="#c0c0c0"/>
<rect x="1214" y="752" width="1" height="14" fill="#c0c0c0"/>
<rect x="1218" y="752" width="1" height="14" fill="#c0c0c0"/>
<rect x="1222" y="752" width="1" height="13" fill="#c0c0c0"/>
<rect x="1226" y="752" width="1" height="13" fill="#c0c0c0"/>
<rect x="1230" y="752" width="1" height="12" fill="#c0c0c0"/>
<rect x="1234" y="752" width="1" height="14" fill="#c0c0c0"/>
<rect x="1238" y="752" width="1" height="16" fill="#c0c0c0"/>
<rect x="1242" y="752" width="1" height="18" fill="#c0c0c0"/>
<rect x="1246" y="752" width="1" height="20" fill="#c0c0c0"/>
<rect x="1250" y="752" width="1" height="25" fill="#c0c0c0"/>
<rect x="1254" y="752" width="1" height="28" fill="#c0c0c0"/>
<rect x="1258" y="752" width="1" height="31" fill="#c0c0c0"/>
<rect x="1262" y="752" width="1" height="32" fill="#c0c0c0"/>
<rect x="1266" y="752" width="1" height="32" fill="#c0c0c0"/>
<rect x="1270" y="752" width="1" height="33" fill="#c0c0c0"/>
<rect x="1274" y="752" width="1" height="31" fill="#c0c0c0"/>
<rect x="1278" y="752" width="1" height="29" fill="#c0c0c0"/>
<rect x="1282" y="752" width="1" height="24" fill="#c0c0c0"/>
<rect x="1286" y="752" width="1" height="22" fill="#c0c0c0"/>
<rect x="1290" y="752" width="1" height="20" fill="#c0c0c0"/>
<rect x="1294" y="752" width="1" height="18" fill="#c0c0c0"/>
<rect x="1298" y="752" width="1" height="16" fill="#c0c0c0"/>
<rect x="1302" y="752" width="1" height="14" fill="#c0c0c0"/>
<polyline points="2.5,704.2 6.5,704.7 10.5,705.6 14.5,707.4 18.5,710.0 22.5,714.0 26.5,719.4 30.5,726.0 34.5,733.5 38.5,740.8 42.5,748.2 46.5,755.1 50.5,761.2 54.5,766.5 58.5,770.6 62.5,773.7 66.5,775.8 70.5,776.9 74.5,777.0 78.5,776.5 82.5,775.5 86.5,774.3 90.5,773.2 94.5,772.3 98.5,771.3 102.5,770.6 106.5,770.5 110.5,771.4 114.5,773.0 118.5,775.0 122.5,777.0 126.5,778.4 130.5,779.2 134.5,779.5 138.5,779.2 142.5,777.8 146.5,775.7 150.5,773.1 154.5,770.0 158.5,766.7 162.5,763.7 166.5,761.3 170.5,759.4 174.5,758.2 178.5,757.8 182.5,757.8 186.5,758.1 190.5,759.0 194.5,759.9 198.5,761.0 202.5,762.0 206.5,762.8 210.5,762.7 214.5,761.9 218.5,760.4 222.5,757.8 226.5,754.5 230.5,750.8 234.5,746.7 238.5,742.4 242.5,738.5 246.5,735.5 250.5,733.4 254.5,732.0 258.5,731.5 262.5,731.7 266.5,732.8 270.5,734.3 274.5,735.8 278.5,737.1 282.5,737.8 286.5,738.1 290.5,738.3 294.5,738.2 298.5,738.0 302.5,737.8 306.5,737.6 310.5,737.7 314.5,738.2 318.5,739.2 322.5,740.4 326.5,741.4 330.5,742.5 334.5,743.8 338.5,745.2 342.5,746.4 346.5,747.3 350.5,748.2 354.5,748.9 358.5,749.3 362.5,749.9 366.5,750.6 370.5,750.8 374.5,750.9 378.5,750.6 382.5,750.5 386.5,750.1 390.5,749.2 394.5,747.9 398.5,746.5 402.5,744.9 406.5,743.4 410.5,742.1 414.5,741.0 418.5,739.7 422.5,738.9 426.5,738.5 430.5,738.6 434.5,738.8 438.5,739.1 442.5,739.3 446.5,739.6 450.5,739.9 454.5,740.2 458.5,740.5 462.5,740.8 466.5,741.1 470.5,741.5 474.5,741.9 478.5,742.7 482.5,743.4 486.5,744.1 490.5,744.8 494.5,745.6 498.5,746.2 502.5,746.8 506.5,747.3 510.5,747.4 514.5,747.2 518.5,746.6 522.5,745.8 526.5,745.2 530.5,744.9 534.5,744.9 538.5,745.3 542.5,746.5 546.5,748.7 550.5,751.6 554.5,754.9 558.5,758.5 562.5,761.8 566.5,764.5 570.5,766.4 574.5,767.6 578.5,767.9 582.5,767.5 586.5,767.3 590.5,767.2 594.5,767.4 598.5,768.0 602.5,769.2 606.5,771.5 610.5,774.2 614.5,777.6 618.5,781.1 622.5,784.0 626.5,786.4 630.5,788.5 634.5,790.4 638.5,791.7 642.5,792.3 646.5,792.5 650.5,792.1 654.5,791.2 658.5,790.3 662.5,789.4 666.5,788.6 670.5,787.5 674.5,786.6 678.5,785.7 682.5,784.6 686.5,783.7 690.5,782.7 694.5,781.3 698.5,779.5 702.5,777.3 706.5,774.7 710.5,771.8 714.5,768.8 718.5,765.9 722.5,763.0 726.5,760.3 730.5,757.7 734.5,755.2 738.5,752.9 742.5,750.9 746.5,749.0 750.5,746.8 754.5,744.8 758.5,743.0 762.5,741.3 766.5,740.0 770.5,739.2 774.5,738.1 778.5,736.9 782.5,735.9 786.5,735.7 790.5,735.4 794.5,734.9 798.5,734.4 802.5,733.9 806.5,733.3 810.5,733.1 814.5,733.3 818.5,733.8 822.5,734.2 826.5,734.7 830.5,735.5 834.5,736.2 838.5,736.7 842.5,737.3 846.5,738.1 850.5,739.2 854.5,740.6 858.5,742.5 862.5,744.7 866.5,747.1 870.5,749.6 874.5,752.1 878.5,754.4 882.5,756.0 886.5,757.1 890.5,757.5 894.5,757.3 898.5,756.5 902.5,755.3 906.5,754.1 910.5,752.8 914.5,751.8 918.5,751.0 922.5,750.3 926.5,749.8 930.5,749.7 934.5,749.7 938.5,749.9 942.5,749.9 946.5,749.6 950.5,749.1 954.5,748.6 958.5,748.0 962.5,747.2 966.5,746.3 970.5,745.5 974.5,745.1 978.5,745.5 982.5,746.2 986.5,747.5 990.5,749.2 994.5,751.3 998.5,753.8 1002.5,756.7 1006.5,759.8 1010.5,762.6 1014.5,765.0 1018.5,767.5 1022.5,769.9 1026.5,772.2 1030.5,774.1 1034.5,775.6 1038.5,776.2 1042.5,776.2 1046.5,775.7 1050.5,774.8 1054.5,773.4 1058.5,771.7 1062.5,769.6 1066.5,767.3 1070.5,764.6 1074.5,762.2 1078.5,759.9 1082.5,757.6 1086.5,755.2 1090.5,752.9 1094.5,750.8 1098.5,748.9 1102.5,747.2 1106.5,746.0 1110.5,744.7 1114.5,743.5 1118.5,742.4 1122.5,741.5 1126.5,740.5 1130.5,739.6 1134.5,738.8 1138.5,738.0 1142.5,737.3 1146.5,737.0 1150.5,736.8 1154.5,736.7 1158.5,737.2 1162.5,738.3 1166.5,739.4 1170.5,740.6 1174.5,741.9 1178.5,743.3 1182.5,744.8 1186.5,746.6 1190.5,748.4 1194.5,750.2 1198.5,751.7 1202.5,753.4 1206.5,755.3 1210.5,757.3 1214.5,759.0 1218.5,760.5 1222.5,761.7 1226.5,762.7 1230.5,763.4 1234.5,764.0 1238.5,764.7 1242.5,765.2 1246.5,765.8 1250.5,767.0 1254.5,768.7 1258.5,770.6 1262.5,772.8 1266.5,775.0 1270.5,777.2 1274.5,778.9 1278.5,780.1 1282.5,780.6 1286.5,780.2 1290.5,779.3 1294.5,777.9 1298.5,776.1 1302.5,774.1" fill="none" stroke="#ff0000" stroke-width="1" stroke-dasharray="3,3"/>
<rect x="1639" y="699" width="2" height="1" fill="#000"/>
<rect x="1639" y="752" width="2" height="1" fill="#000"/>
<rect x="1639" y="799" width="2" height="1" fill="#000"/>
<rect x="1" y="22" width="1638" height="1" fill="#000"/>
<rect x="1" y="589" width="1638" height="1" fill="#000"/>
<rect x="1" y="22" width="1" height="568" fill="#000"/>
<rect x="1638" y="22" width="1" height="568" fill="#000"/>
<rect x="1" y="591" width="1638" height="1" fill="#000"/>
<rect x="1" y="695" width="1638" height="1" fill="#000"/>
<rect x="1" y="591" width="1" height="105" fill="#000"/>
<rect x="1638" y="591" width="1" height="105" fill="#000"/>
<rect x="1" y="697" width="1638" height="1" fill="#000"/>
<rect x="1" y="800" width="1638" height="1" fill="#000"/>
<rect x="1" y="697" width="1" height="104" fill="#000"/>
<rect x="1638" y="697" width="1" height="104" fill="#000"/>
<rect x="1" y="336" width="6" height="6" fill="#ff0000"/>
<rect x="3" y="338" width="2" height="2" fill="#fff"/>
<rect x="1632" y="336" width="6" height="6" fill="#ff0000"/>
<rect x="1634" y="338" width="2" height="2" fill="#fff"/>
<rect x="1" y="432" width="6" height="6" fill="#00ff00"/>
<rect x="3" y="434" width="2" height="2" fill="#fff"/>
<rect x="1632" y="432" width="6" height="6" fill="#00ff00"/>
<rect x="1634" y="434" width="2" height="2" fill="#fff"/>
<rect x="2" y="801" width="1" height="3" fill="#000"/>
<rect x="66" y="801" width="1" height="3" fill="#000"/>
<rect x="130" y="801" width="1" height="3" fill="#000"/>
<rect x="194" y="801" width="1" height="3" fill="#000"/>
<rect x="258" y="801" width="1" height="3" fill="#000"/>
<rect x="322" y="801" width="1" height="3" fill="#000"/>
<rect x="386" y="801" width="1" height="3" fill="#000"/>
<rect x="450" y="801" width="1" height="3" fill="#000"/>
<rect x="514" y="801" width="1" height="3" fill="#000"/>
<rect x="578" y="801" width="1" height="3" fill="#000"/>
<rect x="642" y="801" width="1" height="3" fill="#000"/>
<rect x="706" y="801" width="1" height="3" fill="#000"/>
<rect x="770" y="801" width="1" height="3" fill="#000"/>
<rect x="834" y="801" width="1" height="3" fill="#000"/>
<rect x="898" y="801" width="1" height="3" fill="#000"/>
<rect x="962" y="801" width="1" height="3" fill="#000"/>
<rect x="1026" y="801" width="1" height="3" fill="#000"/>
<rect x="1090" y="801" width="1" height="3" fill="#000"/>
<rect x="1154" y="801" width="1" height="3" fill="#000"/>
<rect x="1218" y="801" width="1" height="3" fill="#000"/>
<rect x="1282" y="801" width="1" height="3" fill="#000"/>
<rect x="0" y="821" width="1684" height="1" fill="#e3e3e3"/>
<rect x="0" y="822" width="1684" height="1" fill="#ffffff"/>
<rect x="0" y="823" width="1684" height="1" fill="#000"/>
<rect x="0" y="824" width="1684" height="18" fill="#f0f0f0"/>
<rect x="311" y="823" width="104" height="19" fill="#ffffff"/>
<rect x="311" y="823" width="1" height="19" fill="#000"/>
<rect x="414" y="823" width="1" height="19" fill="#000"/>
<polygon points="5,29 12,29 8.5,33" fill="#000"/>
<rect x="107" y="826" width="1" height="14" fill="#6e6e6e"/>
<rect x="208" y="826" width="1" height="14" fill="#6e6e6e"/>
<rect x="519" y="826" width="1" height="14" fill="#6e6e6e"/>
<rect x="311" y="841" width="104" height="1" fill="#000"/>
<polygon points="1657.5,829 1657.5,835.5 1653.5,832.25" fill="#a0a0a0"/>
<polygon points="1672.7,829 1672.7,835.5 1676.7,832.25" fill="#a0a0a0"/>
</g>
<g>
<text x="85.3" y="10" font-size="9" fill="#3c3c3c" font-family='"DejaVu Sans",sans-serif' textLength="13.40" lengthAdjust="spacingAndGlyphs" >M1</text>
<text x="112.5" y="10" font-size="9" fill="#3c3c3c" font-family='"DejaVu Sans",sans-serif' textLength="14.20" lengthAdjust="spacingAndGlyphs" >M5</text>
<text x="139.0" y="10" font-size="9" fill="#3c3c3c" font-family='"DejaVu Sans",sans-serif' textLength="19.00" lengthAdjust="spacingAndGlyphs" >M15</text>
<text x="166.5" y="10" font-size="9" fill="#3c3c3c" font-family='"DejaVu Sans",sans-serif' textLength="19.20" lengthAdjust="spacingAndGlyphs" >M30</text>
<text x="197.5" y="10" font-size="9" fill="#3c3c3c" font-family='"DejaVu Sans",sans-serif' textLength="13.70" lengthAdjust="spacingAndGlyphs" >H1</text>
<text x="224.9" y="10" font-size="9" fill="#3c3c3c" font-family='"DejaVu Sans",sans-serif' textLength="13.80" lengthAdjust="spacingAndGlyphs" >H4</text>
<text x="253.5" y="10" font-size="9" fill="#3c3c3c" font-family='"DejaVu Sans",sans-serif' textLength="13.20" lengthAdjust="spacingAndGlyphs" >D1</text>
<text x="281.5" y="10" font-size="9" fill="#3c3c3c" font-family='"DejaVu Sans",sans-serif' textLength="15.20" lengthAdjust="spacingAndGlyphs" >W1</text>
<text x="308.1" y="10" font-size="9" fill="#3c3c3c" font-family='"DejaVu Sans",sans-serif' textLength="16.10" lengthAdjust="spacingAndGlyphs" >MN</text>
<text x="16.8" y="34" font-size="9" fill="#000" font-family='"DejaVu Sans",sans-serif' textLength="66.30" lengthAdjust="spacingAndGlyphs" >USDCAD,Daily</text>
<text x="88.8" y="34" font-size="9" fill="#000" font-family='"DejaVu Sans",sans-serif' textLength="141.00" lengthAdjust="spacingAndGlyphs" >1.30662 1.30712 1.30461 1.30671</text>
<text x="1644" y="29" font-size="9" fill="#000" font-family='"DejaVu Sans",sans-serif' textLength="33.20" lengthAdjust="spacingAndGlyphs" >1.36950</text>
<text x="1644" y="62" font-size="9" fill="#000" font-family='"DejaVu Sans",sans-serif' textLength="33.20" lengthAdjust="spacingAndGlyphs" >1.36500</text>
<text x="1644" y="95" font-size="9" fill="#000" font-family='"DejaVu Sans",sans-serif' textLength="33.20" lengthAdjust="spacingAndGlyphs" >1.36050</text>
<text x="1644" y="161" font-size="9" fill="#000" font-family='"DejaVu Sans",sans-serif' textLength="33.20" lengthAdjust="spacingAndGlyphs" >1.35160</text>
<text x="1644" y="194" font-size="9" fill="#000" font-family='"DejaVu Sans",sans-serif' textLength="33.20" lengthAdjust="spacingAndGlyphs" >1.34710</text>
<text x="1644" y="227" font-size="9" fill="#000" font-family='"DejaVu Sans",sans-serif' textLength="33.20" lengthAdjust="spacingAndGlyphs" >1.34270</text>
<text x="1644" y="260" font-size="9" fill="#000" font-family='"DejaVu Sans",sans-serif' textLength="33.20" lengthAdjust="spacingAndGlyphs" >1.33820</text>
<text x="1644" y="293" font-size="9" fill="#000" font-family='"DejaVu Sans",sans-serif' textLength="33.20" lengthAdjust="spacingAndGlyphs" >1.33370</text>
<text x="1644" y="326" font-size="9" fill="#000" font-family='"DejaVu Sans",sans-serif' textLength="33.20" lengthAdjust="spacingAndGlyphs" >1.32930</text>
<text x="1644" y="359" font-size="9" fill="#000" font-family='"DejaVu Sans",sans-serif' textLength="33.20" lengthAdjust="spacingAndGlyphs" >1.32480</text>
<text x="1644" y="392" font-size="9" fill="#000" font-family='"DejaVu Sans",sans-serif' textLength="33.20" lengthAdjust="spacingAndGlyphs" >1.32030</text>
<text x="1644" y="425" font-size="9" fill="#000" font-family='"DejaVu Sans",sans-serif' textLength="33.20" lengthAdjust="spacingAndGlyphs" >1.31590</text>
<text x="1644" y="458" font-size="9" fill="#000" font-family='"DejaVu Sans",sans-serif' textLength="33.20" lengthAdjust="spacingAndGlyphs" >1.31140</text>
<text x="1644" y="524" font-size="9" fill="#000" font-family='"DejaVu Sans",sans-serif' textLength="33.20" lengthAdjust="spacingAndGlyphs" >1.30250</text>
<text x="1644" y="557" font-size="9" fill="#000" font-family='"DejaVu Sans",sans-serif' textLength="33.20" lengthAdjust="spacingAndGlyphs" >1.29800</text>
<text x="1644" y="590" font-size="9" fill="#000" font-family='"DejaVu Sans",sans-serif' textLength="33.20" lengthAdjust="spacingAndGlyphs" >1.29350</text>
<text x="6" y="604" font-size="9" fill="#000" font-family='"DejaVu Sans",sans-serif' textLength="68.20" lengthAdjust="spacingAndGlyphs" >RSI(14) 47.7496</text>
<text x="1641.5" y="602" font-size="9" fill="#000" font-family='"DejaVu Sans",sans-serif' textLength="15.70" lengthAdjust="spacingAndGlyphs" >100</text>
<text x="1640.8" y="627" font-size="9" fill="#000" font-family='"DejaVu Sans",sans-serif' textLength="10.80" lengthAdjust="spacingAndGlyphs" >70</text>
<text x="1640.8" y="668" font-size="9" fill="#000" font-family='"DejaVu Sans",sans-serif' textLength="10.80" lengthAdjust="spacingAndGlyphs" >30</text>
<text x="1641.6" y="692" font-size="9" fill="#000" font-family='"DejaVu Sans",sans-serif' textLength="5.40" lengthAdjust="spacingAndGlyphs" >0</text>
<text x="6.3" y="710" font-size="9" fill="#000" font-family='"DejaVu Sans",sans-serif' textLength="153.60" lengthAdjust="spacingAndGlyphs" >MACD(12,26,9) -0.002579 -0.004312</text>
<text x="1641.5" y="708" font-size="9" fill="#000" font-family='"DejaVu Sans",sans-serif' textLength="39.00" lengthAdjust="spacingAndGlyphs" >0.010314</text>
<text x="1641.8" y="756" font-size="9" fill="#000" font-family='"DejaVu Sans",sans-serif' textLength="18.30" lengthAdjust="spacingAndGlyphs" >0.00</text>
<text x="1641.5" y="797" font-size="9" fill="#000" font-family='"DejaVu Sans",sans-serif' textLength="41.50" lengthAdjust="spacingAndGlyphs" >-0.009166</text>
<text x="1" y="813" font-size="9" fill="#000" font-family='"DejaVu Sans",sans-serif' textLength="45.20" lengthAdjust="spacingAndGlyphs" >1 Jan 2019</text>
<text x="65" y="813" font-size="9" fill="#000" font-family='"DejaVu Sans",sans-serif' textLength="50.55" lengthAdjust="spacingAndGlyphs" >19 Jan 2019</text>
<text x="129" y="813" font-size="9" fill="#000" font-family='"DejaVu Sans",sans-serif' textLength="47.13" lengthAdjust="spacingAndGlyphs" >7 Feb 2019</text>
<text x="193" y="813" font-size="9" fill="#000" font-family='"DejaVu Sans",sans-serif' textLength="52.49" lengthAdjust="spacingAndGlyphs" >26 Feb 2019</text>
<text x="257" y="813" font-size="9" fill="#000" font-family='"DejaVu Sans",sans-serif' textLength="53.47" lengthAdjust="spacingAndGlyphs" >16 Mar 2019</text>
<text x="321" y="813" font-size="9" fill="#000" font-family='"DejaVu Sans",sans-serif' textLength="46.78" lengthAdjust="spacingAndGlyphs" >4 Apr 2019</text>
<text x="385" y="813" font-size="9" fill="#000" font-family='"DejaVu Sans",sans-serif' textLength="52.15" lengthAdjust="spacingAndGlyphs" >23 Apr 2019</text>
<text x="449" y="813" font-size="9" fill="#000" font-family='"DejaVu Sans",sans-serif' textLength="54.99" lengthAdjust="spacingAndGlyphs" >11 May 2019</text>
<text x="513" y="813" font-size="9" fill="#000" font-family='"DejaVu Sans",sans-serif' textLength="54.99" lengthAdjust="spacingAndGlyphs" >30 May 2019</text>
<text x="577" y="813" font-size="9" fill="#000" font-family='"DejaVu Sans",sans-serif' textLength="50.73" lengthAdjust="spacingAndGlyphs" >18 Jun 2019</text>
<text x="641" y="813" font-size="9" fill="#000" font-family='"DejaVu Sans",sans-serif' textLength="42.37" lengthAdjust="spacingAndGlyphs" >6 Jul 2019</text>
<text x="705" y="813" font-size="9" fill="#000" font-family='"DejaVu Sans",sans-serif' textLength="47.73" lengthAdjust="spacingAndGlyphs" >25 Jul 2019</text>
<text x="769" y="813" font-size="9" fill="#000" font-family='"DejaVu Sans",sans-serif' textLength="54.02" lengthAdjust="spacingAndGlyphs" >13 Aug 2019</text>
<text x="833" y="813" font-size="9" fill="#000" font-family='"DejaVu Sans",sans-serif' textLength="54.02" lengthAdjust="spacingAndGlyphs" >31 Aug 2019</text>
<text x="897" y="813" font-size="9" fill="#000" font-family='"DejaVu Sans",sans-serif' textLength="53.45" lengthAdjust="spacingAndGlyphs" >19 Sep 2019</text>
<text x="961" y="813" font-size="9" fill="#000" font-family='"DejaVu Sans",sans-serif' textLength="46.78" lengthAdjust="spacingAndGlyphs" >8 Oct 2019</text>
<text x="1025" y="813" font-size="9" fill="#000" font-family='"DejaVu Sans",sans-serif' textLength="52.14" lengthAdjust="spacingAndGlyphs" >26 Oct 2019</text>
<text x="1089" y="813" font-size="9" fill="#000" font-family='"DejaVu Sans",sans-serif' textLength="54.02" lengthAdjust="spacingAndGlyphs" >14 Nov 2019</text>
<text x="1153" y="813" font-size="9" fill="#000" font-family='"DejaVu Sans",sans-serif' textLength="48.52" lengthAdjust="spacingAndGlyphs" >3 Dec 2019</text>
<text x="1217" y="813" font-size="9" fill="#000" font-family='"DejaVu Sans",sans-serif' textLength="53.88" lengthAdjust="spacingAndGlyphs" >21 Dec 2019</text>
<text x="1281" y="813" font-size="9" fill="#000" font-family='"DejaVu Sans",sans-serif' textLength="45.20" lengthAdjust="spacingAndGlyphs" >9 Jan 2020</text>
<text x="14.7" y="838" font-size="12" fill="#7a7a7a" font-family='"Liberation Sans","Noto Sans CJK SC",sans-serif' textLength="80.10" lengthAdjust="spacingAndGlyphs" >EURUSD,Daily</text>
<text x="116.1" y="838" font-size="12" fill="#7a7a7a" font-family='"Liberation Sans","Noto Sans CJK SC",sans-serif' textLength="80.10" lengthAdjust="spacingAndGlyphs" >USDCHF,Daily</text>
<text x="218.1" y="838" font-size="12" fill="#7a7a7a" font-family='"Liberation Sans","Noto Sans CJK SC",sans-serif' textLength="82.90" lengthAdjust="spacingAndGlyphs" >AUDUSD,Daily</text>
<text x="321.4" y="838" font-size="12" fill="#000" font-family='"Liberation Sans","Noto Sans CJK SC",sans-serif' textLength="81.70" lengthAdjust="spacingAndGlyphs" >USDCAD,Daily</text>
<text x="424.6" y="838" font-size="12" fill="#7a7a7a" font-family='"Liberation Sans","Noto Sans CJK SC",sans-serif' textLength="83.40" lengthAdjust="spacingAndGlyphs" >USDCNH,Daily</text>
</g>
<g shape-rendering="crispEdges"><rect x="1640" y="118" width="41" height="11" fill="#ff0000"/>
<rect x="1640" y="222" width="41" height="11" fill="#ff0000"/>
<rect x="1640" y="333" width="41" height="11" fill="#ff0000"/>
<rect x="1640" y="429" width="41" height="11" fill="#00ff00"/>
<rect x="1640" y="484" width="41" height="11" fill="#000000"/>
<rect x="1640" y="521" width="41" height="11" fill="#0000ff"/></g>
<g><text x="1644" y="127" font-size="9" fill="#fff" font-family='"DejaVu Sans",sans-serif' textLength="33.2" lengthAdjust="spacingAndGlyphs">1.35606</text>
<text x="1644" y="231" font-size="9" fill="#fff" font-family='"DejaVu Sans",sans-serif' textLength="33.2" lengthAdjust="spacingAndGlyphs">1.34206</text>
<text x="1644" y="342" font-size="9" fill="#fff" font-family='"DejaVu Sans",sans-serif' textLength="33.2" lengthAdjust="spacingAndGlyphs">1.32700</text>
<text x="1644" y="438" font-size="9" fill="#fff" font-family='"DejaVu Sans",sans-serif' textLength="33.2" lengthAdjust="spacingAndGlyphs">1.31405</text>
<text x="1644" y="493" font-size="9" fill="#fff" font-family='"DejaVu Sans",sans-serif' textLength="33.2" lengthAdjust="spacingAndGlyphs">1.30671</text>
<text x="1644" y="530" font-size="9" fill="#fff" font-family='"DejaVu Sans",sans-serif' textLength="33.2" lengthAdjust="spacingAndGlyphs">1.30152</text></g>
</svg>
</body></html>
